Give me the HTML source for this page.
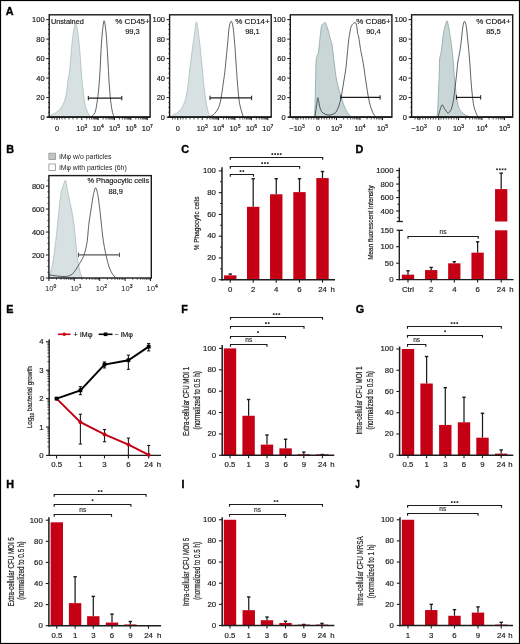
<!DOCTYPE html>
<html><head><meta charset="utf-8"><style>
html,body{margin:0;padding:0;background:#fff;}
body{width:520px;height:644px;overflow:hidden;font-family:"Liberation Sans",sans-serif;}
svg{display:block;}
</style></head><body>
<svg width="520" height="644" viewBox="0 0 520 644" style="will-change:transform" font-family='"Liberation Sans", sans-serif'>
<rect x="0" y="0" width="520" height="644" fill="#fff"/>
<text x="5.84" y="14.9" font-size="10.8" text-anchor="start" font-weight="bold" fill="#000" stroke="#000" stroke-width="0.35">A</text>
<line x1="46.2" y1="117.1" x2="49.2" y2="117.1" stroke="#1c1c1c" stroke-width="1"/>
<text x="44.6" y="119.6" font-size="7.5" text-anchor="end" font-weight="normal" fill="#1c1c1c" stroke="#1c1c1c" stroke-width="0.18">0</text>
<line x1="46.2" y1="97.6" x2="49.2" y2="97.6" stroke="#1c1c1c" stroke-width="1"/>
<text x="44.6" y="100.1" font-size="7.5" text-anchor="end" font-weight="normal" fill="#1c1c1c" stroke="#1c1c1c" stroke-width="0.18">20</text>
<line x1="46.2" y1="78.1" x2="49.2" y2="78.1" stroke="#1c1c1c" stroke-width="1"/>
<text x="44.6" y="80.6" font-size="7.5" text-anchor="end" font-weight="normal" fill="#1c1c1c" stroke="#1c1c1c" stroke-width="0.18">40</text>
<line x1="46.2" y1="58.6" x2="49.2" y2="58.6" stroke="#1c1c1c" stroke-width="1"/>
<text x="44.6" y="61.1" font-size="7.5" text-anchor="end" font-weight="normal" fill="#1c1c1c" stroke="#1c1c1c" stroke-width="0.18">60</text>
<line x1="46.2" y1="39.1" x2="49.2" y2="39.1" stroke="#1c1c1c" stroke-width="1"/>
<text x="44.6" y="41.6" font-size="7.5" text-anchor="end" font-weight="normal" fill="#1c1c1c" stroke="#1c1c1c" stroke-width="0.18">80</text>
<line x1="46.2" y1="19.6" x2="49.2" y2="19.6" stroke="#1c1c1c" stroke-width="1"/>
<text x="44.6" y="22.1" font-size="7.5" text-anchor="end" font-weight="normal" fill="#1c1c1c" stroke="#1c1c1c" stroke-width="0.18">100</text>
<line x1="48" y1="112.22" x2="49.2" y2="112.22" stroke="#1c1c1c" stroke-width="0.8"/>
<line x1="48" y1="107.35" x2="49.2" y2="107.35" stroke="#1c1c1c" stroke-width="0.8"/>
<line x1="48" y1="102.47" x2="49.2" y2="102.47" stroke="#1c1c1c" stroke-width="0.8"/>
<line x1="48" y1="92.72" x2="49.2" y2="92.72" stroke="#1c1c1c" stroke-width="0.8"/>
<line x1="48" y1="87.85" x2="49.2" y2="87.85" stroke="#1c1c1c" stroke-width="0.8"/>
<line x1="48" y1="82.97" x2="49.2" y2="82.97" stroke="#1c1c1c" stroke-width="0.8"/>
<line x1="48" y1="73.22" x2="49.2" y2="73.22" stroke="#1c1c1c" stroke-width="0.8"/>
<line x1="48" y1="68.35" x2="49.2" y2="68.35" stroke="#1c1c1c" stroke-width="0.8"/>
<line x1="48" y1="63.47" x2="49.2" y2="63.47" stroke="#1c1c1c" stroke-width="0.8"/>
<line x1="48" y1="53.72" x2="49.2" y2="53.72" stroke="#1c1c1c" stroke-width="0.8"/>
<line x1="48" y1="48.85" x2="49.2" y2="48.85" stroke="#1c1c1c" stroke-width="0.8"/>
<line x1="48" y1="43.97" x2="49.2" y2="43.97" stroke="#1c1c1c" stroke-width="0.8"/>
<line x1="48" y1="34.22" x2="49.2" y2="34.22" stroke="#1c1c1c" stroke-width="0.8"/>
<line x1="48" y1="29.35" x2="49.2" y2="29.35" stroke="#1c1c1c" stroke-width="0.8"/>
<line x1="48" y1="24.47" x2="49.2" y2="24.47" stroke="#1c1c1c" stroke-width="0.8"/>
<path d="M50,117.1 C50.17,116.75 50.05,115.73 51,115 C51.95,114.27 54.15,113.73 55.7,112.7 C57.25,111.67 58.88,110.6 60.3,108.8 C61.72,107 63.17,104.58 64.2,101.9 C65.23,99.22 65.87,96.28 66.5,92.7 C67.13,89.12 67.43,84.38 68,80.4 C68.57,76.42 69.32,74.1 69.9,68.8 C70.48,63.5 70.88,54.87 71.5,48.6 C72.12,42.33 72.92,35.45 73.6,31.2 C74.28,26.95 74.93,23.1 75.6,23.1 C76.27,23.1 76.93,26.95 77.6,31.2 C78.27,35.45 79.08,43.3 79.6,48.6 C80.12,53.9 80.33,57.93 80.7,63 C81.07,68.07 81.35,74.05 81.8,79 C82.25,83.95 82.88,88.62 83.4,92.7 C83.92,96.78 84.27,100.42 84.9,103.5 C85.53,106.58 86.3,108.93 87.2,111.2 C88.1,113.47 89.78,116.12 90.3,117.1 L90.3,117.1 L50,117.1 Z" fill="#d8e1e1" stroke="#a9bcbc" stroke-width="0.8"/>
<path d="M91,117.1 C91.65,116.37 93.92,114.97 94.9,112.7 C95.88,110.43 96.25,107.62 96.9,103.5 C97.55,99.38 98.25,93.92 98.8,88 C99.35,82.08 99.82,74.57 100.2,68 C100.58,61.43 100.72,54.73 101.1,48.6 C101.48,42.47 102,35.85 102.5,31.2 C103,26.55 103.53,20.7 104.1,20.7 C104.67,20.7 105.38,26.55 105.9,31.2 C106.42,35.85 106.82,42.8 107.2,48.6 C107.58,54.4 107.82,59.43 108.2,66 C108.58,72.57 109.03,81.75 109.5,88 C109.97,94.25 110.48,99.38 111,103.5 C111.52,107.62 112.07,110.43 112.6,112.7 C113.13,114.97 113.93,116.37 114.2,117.1" fill="none" stroke="#2e3a3a" stroke-width="0.8"/>
<line x1="88.3" y1="98.1" x2="121.8" y2="98.1" stroke="#1c1c1c" stroke-width="1.2"/>
<line x1="88.3" y1="95.9" x2="88.3" y2="100.3" stroke="#1c1c1c" stroke-width="1"/>
<line x1="121.8" y1="95.9" x2="121.8" y2="100.3" stroke="#1c1c1c" stroke-width="1"/>
<rect x="49.2" y="14.8" width="100.9" height="102.3" fill="none" stroke="#1a1a1a" stroke-width="1.4"/>
<line x1="47.2" y1="117.1" x2="150.1" y2="117.1" stroke="#1c1c1c" stroke-width="1.7"/>
<line x1="57" y1="117.1" x2="57" y2="120.1" stroke="#1c1c1c" stroke-width="1"/>
<text x="57" y="130.8" font-size="7.4" text-anchor="middle" font-weight="normal" fill="#1c1c1c" stroke="#1c1c1c" stroke-width="0.18">0</text>
<line x1="81.8" y1="117.1" x2="81.8" y2="120.1" stroke="#1c1c1c" stroke-width="1"/>
<text x="81.8" y="130.8" font-size="7.4" text-anchor="middle" font-weight="normal" fill="#1c1c1c" stroke="#1c1c1c" stroke-width="0.18">10<tspan dy="-2.9" font-size="5" stroke="#1c1c1c" stroke-width="0.2">3</tspan></text>
<line x1="98.2" y1="117.1" x2="98.2" y2="120.1" stroke="#1c1c1c" stroke-width="1"/>
<text x="98.2" y="130.8" font-size="7.4" text-anchor="middle" font-weight="normal" fill="#1c1c1c" stroke="#1c1c1c" stroke-width="0.18">10<tspan dy="-2.9" font-size="5" stroke="#1c1c1c" stroke-width="0.2">4</tspan></text>
<line x1="114.5" y1="117.1" x2="114.5" y2="120.1" stroke="#1c1c1c" stroke-width="1"/>
<text x="114.5" y="130.8" font-size="7.4" text-anchor="middle" font-weight="normal" fill="#1c1c1c" stroke="#1c1c1c" stroke-width="0.18">10<tspan dy="-2.9" font-size="5" stroke="#1c1c1c" stroke-width="0.2">5</tspan></text>
<line x1="130.9" y1="117.1" x2="130.9" y2="120.1" stroke="#1c1c1c" stroke-width="1"/>
<text x="130.9" y="130.8" font-size="7.4" text-anchor="middle" font-weight="normal" fill="#1c1c1c" stroke="#1c1c1c" stroke-width="0.18">10<tspan dy="-2.9" font-size="5" stroke="#1c1c1c" stroke-width="0.2">6</tspan></text>
<line x1="147.3" y1="117.1" x2="147.3" y2="120.1" stroke="#1c1c1c" stroke-width="1"/>
<text x="147.3" y="130.8" font-size="7.4" text-anchor="middle" font-weight="normal" fill="#1c1c1c" stroke="#1c1c1c" stroke-width="0.18">10<tspan dy="-2.9" font-size="5" stroke="#1c1c1c" stroke-width="0.2">7</tspan></text>
<text x="132.5" y="24.2" font-size="8" text-anchor="middle" font-weight="normal" fill="#1c1c1c" stroke="#1c1c1c" stroke-width="0.18">% CD45+</text>
<text x="132.5" y="33.5" font-size="7.5" text-anchor="middle" font-weight="normal" fill="#1c1c1c" stroke="#1c1c1c" stroke-width="0.18">99,3</text>
<line x1="86.74" y1="117.1" x2="86.74" y2="119.5" stroke="#1c1c1c" stroke-width="0.8"/>
<line x1="89.62" y1="117.1" x2="89.62" y2="119.5" stroke="#1c1c1c" stroke-width="0.8"/>
<line x1="91.67" y1="117.1" x2="91.67" y2="119.5" stroke="#1c1c1c" stroke-width="0.8"/>
<line x1="93.26" y1="117.1" x2="93.26" y2="119.5" stroke="#1c1c1c" stroke-width="0.8"/>
<line x1="94.56" y1="117.1" x2="94.56" y2="119.5" stroke="#1c1c1c" stroke-width="0.8"/>
<line x1="95.66" y1="117.1" x2="95.66" y2="119.5" stroke="#1c1c1c" stroke-width="0.8"/>
<line x1="96.61" y1="117.1" x2="96.61" y2="119.5" stroke="#1c1c1c" stroke-width="0.8"/>
<line x1="97.45" y1="117.1" x2="97.45" y2="119.5" stroke="#1c1c1c" stroke-width="0.8"/>
<line x1="103.14" y1="117.1" x2="103.14" y2="119.5" stroke="#1c1c1c" stroke-width="0.8"/>
<line x1="106.02" y1="117.1" x2="106.02" y2="119.5" stroke="#1c1c1c" stroke-width="0.8"/>
<line x1="108.07" y1="117.1" x2="108.07" y2="119.5" stroke="#1c1c1c" stroke-width="0.8"/>
<line x1="109.66" y1="117.1" x2="109.66" y2="119.5" stroke="#1c1c1c" stroke-width="0.8"/>
<line x1="110.96" y1="117.1" x2="110.96" y2="119.5" stroke="#1c1c1c" stroke-width="0.8"/>
<line x1="112.06" y1="117.1" x2="112.06" y2="119.5" stroke="#1c1c1c" stroke-width="0.8"/>
<line x1="113.01" y1="117.1" x2="113.01" y2="119.5" stroke="#1c1c1c" stroke-width="0.8"/>
<line x1="113.85" y1="117.1" x2="113.85" y2="119.5" stroke="#1c1c1c" stroke-width="0.8"/>
<line x1="119.44" y1="117.1" x2="119.44" y2="119.5" stroke="#1c1c1c" stroke-width="0.8"/>
<line x1="122.32" y1="117.1" x2="122.32" y2="119.5" stroke="#1c1c1c" stroke-width="0.8"/>
<line x1="124.37" y1="117.1" x2="124.37" y2="119.5" stroke="#1c1c1c" stroke-width="0.8"/>
<line x1="125.96" y1="117.1" x2="125.96" y2="119.5" stroke="#1c1c1c" stroke-width="0.8"/>
<line x1="127.26" y1="117.1" x2="127.26" y2="119.5" stroke="#1c1c1c" stroke-width="0.8"/>
<line x1="128.36" y1="117.1" x2="128.36" y2="119.5" stroke="#1c1c1c" stroke-width="0.8"/>
<line x1="129.31" y1="117.1" x2="129.31" y2="119.5" stroke="#1c1c1c" stroke-width="0.8"/>
<line x1="130.15" y1="117.1" x2="130.15" y2="119.5" stroke="#1c1c1c" stroke-width="0.8"/>
<line x1="135.84" y1="117.1" x2="135.84" y2="119.5" stroke="#1c1c1c" stroke-width="0.8"/>
<line x1="138.72" y1="117.1" x2="138.72" y2="119.5" stroke="#1c1c1c" stroke-width="0.8"/>
<line x1="140.77" y1="117.1" x2="140.77" y2="119.5" stroke="#1c1c1c" stroke-width="0.8"/>
<line x1="142.36" y1="117.1" x2="142.36" y2="119.5" stroke="#1c1c1c" stroke-width="0.8"/>
<line x1="143.66" y1="117.1" x2="143.66" y2="119.5" stroke="#1c1c1c" stroke-width="0.8"/>
<line x1="144.76" y1="117.1" x2="144.76" y2="119.5" stroke="#1c1c1c" stroke-width="0.8"/>
<line x1="145.71" y1="117.1" x2="145.71" y2="119.5" stroke="#1c1c1c" stroke-width="0.8"/>
<line x1="146.55" y1="117.1" x2="146.55" y2="119.5" stroke="#1c1c1c" stroke-width="0.8"/>
<text x="50.9" y="23.9" font-size="7.3" text-anchor="start" font-weight="normal" fill="#1c1c1c" stroke="#1c1c1c" stroke-width="0.18">Unstained</text>
<line x1="52" y1="117.1" x2="52" y2="119.5" stroke="#1c1c1c" stroke-width="0.8"/>
<line x1="54.5" y1="117.1" x2="54.5" y2="119.5" stroke="#1c1c1c" stroke-width="0.8"/>
<line x1="59.5" y1="117.1" x2="59.5" y2="119.5" stroke="#1c1c1c" stroke-width="0.8"/>
<line x1="62" y1="117.1" x2="62" y2="119.5" stroke="#1c1c1c" stroke-width="0.8"/>
<line x1="65" y1="117.1" x2="65" y2="119.5" stroke="#1c1c1c" stroke-width="0.8"/>
<line x1="69" y1="117.1" x2="69" y2="119.5" stroke="#1c1c1c" stroke-width="0.8"/>
<line x1="73" y1="117.1" x2="73" y2="119.5" stroke="#1c1c1c" stroke-width="0.8"/>
<line x1="77" y1="117.1" x2="77" y2="119.5" stroke="#1c1c1c" stroke-width="0.8"/>
<line x1="166.6" y1="117.1" x2="169.6" y2="117.1" stroke="#1c1c1c" stroke-width="1"/>
<text x="165" y="119.6" font-size="7.5" text-anchor="end" font-weight="normal" fill="#1c1c1c" stroke="#1c1c1c" stroke-width="0.18">0</text>
<line x1="166.6" y1="97.6" x2="169.6" y2="97.6" stroke="#1c1c1c" stroke-width="1"/>
<text x="165" y="100.1" font-size="7.5" text-anchor="end" font-weight="normal" fill="#1c1c1c" stroke="#1c1c1c" stroke-width="0.18">20</text>
<line x1="166.6" y1="78.1" x2="169.6" y2="78.1" stroke="#1c1c1c" stroke-width="1"/>
<text x="165" y="80.6" font-size="7.5" text-anchor="end" font-weight="normal" fill="#1c1c1c" stroke="#1c1c1c" stroke-width="0.18">40</text>
<line x1="166.6" y1="58.6" x2="169.6" y2="58.6" stroke="#1c1c1c" stroke-width="1"/>
<text x="165" y="61.1" font-size="7.5" text-anchor="end" font-weight="normal" fill="#1c1c1c" stroke="#1c1c1c" stroke-width="0.18">60</text>
<line x1="166.6" y1="39.1" x2="169.6" y2="39.1" stroke="#1c1c1c" stroke-width="1"/>
<text x="165" y="41.6" font-size="7.5" text-anchor="end" font-weight="normal" fill="#1c1c1c" stroke="#1c1c1c" stroke-width="0.18">80</text>
<line x1="166.6" y1="19.6" x2="169.6" y2="19.6" stroke="#1c1c1c" stroke-width="1"/>
<text x="165" y="22.1" font-size="7.5" text-anchor="end" font-weight="normal" fill="#1c1c1c" stroke="#1c1c1c" stroke-width="0.18">100</text>
<line x1="168.4" y1="112.22" x2="169.6" y2="112.22" stroke="#1c1c1c" stroke-width="0.8"/>
<line x1="168.4" y1="107.35" x2="169.6" y2="107.35" stroke="#1c1c1c" stroke-width="0.8"/>
<line x1="168.4" y1="102.47" x2="169.6" y2="102.47" stroke="#1c1c1c" stroke-width="0.8"/>
<line x1="168.4" y1="92.72" x2="169.6" y2="92.72" stroke="#1c1c1c" stroke-width="0.8"/>
<line x1="168.4" y1="87.85" x2="169.6" y2="87.85" stroke="#1c1c1c" stroke-width="0.8"/>
<line x1="168.4" y1="82.97" x2="169.6" y2="82.97" stroke="#1c1c1c" stroke-width="0.8"/>
<line x1="168.4" y1="73.22" x2="169.6" y2="73.22" stroke="#1c1c1c" stroke-width="0.8"/>
<line x1="168.4" y1="68.35" x2="169.6" y2="68.35" stroke="#1c1c1c" stroke-width="0.8"/>
<line x1="168.4" y1="63.47" x2="169.6" y2="63.47" stroke="#1c1c1c" stroke-width="0.8"/>
<line x1="168.4" y1="53.72" x2="169.6" y2="53.72" stroke="#1c1c1c" stroke-width="0.8"/>
<line x1="168.4" y1="48.85" x2="169.6" y2="48.85" stroke="#1c1c1c" stroke-width="0.8"/>
<line x1="168.4" y1="43.97" x2="169.6" y2="43.97" stroke="#1c1c1c" stroke-width="0.8"/>
<line x1="168.4" y1="34.22" x2="169.6" y2="34.22" stroke="#1c1c1c" stroke-width="0.8"/>
<line x1="168.4" y1="29.35" x2="169.6" y2="29.35" stroke="#1c1c1c" stroke-width="0.8"/>
<line x1="168.4" y1="24.47" x2="169.6" y2="24.47" stroke="#1c1c1c" stroke-width="0.8"/>
<path d="M171,117.1 C171.08,116.92 170.42,116.75 171.5,116 C172.58,115.25 175.63,114.18 177.5,112.6 C179.37,111.02 181.25,109.23 182.7,106.5 C184.15,103.77 185.25,100.23 186.2,96.2 C187.15,92.17 187.82,86.73 188.4,82.3 C188.98,77.87 189.3,73.12 189.7,69.6 C190.1,66.08 190.28,65.17 190.8,61.2 C191.32,57.23 192.17,50.42 192.8,45.8 C193.43,41.18 193.98,37.48 194.6,33.5 C195.22,29.52 195.85,21.9 196.5,21.9 C197.15,21.9 197.92,29.52 198.5,33.5 C199.08,37.48 199.5,41.18 200,45.8 C200.5,50.42 201.1,57.23 201.5,61.2 C201.9,65.17 202.07,66.08 202.4,69.6 C202.73,73.12 203.03,77.87 203.5,82.3 C203.97,86.73 204.63,92.17 205.2,96.2 C205.77,100.23 206.18,103.02 206.9,106.5 C207.62,109.98 209.07,115.33 209.5,117.1 L209.5,117.1 L171,117.1 Z" fill="#d8e1e1" stroke="#a9bcbc" stroke-width="0.8"/>
<path d="M208.7,117.1 C209.57,116.63 212.32,115.77 213.9,114.3 C215.48,112.83 217.05,110.75 218.2,108.3 C219.35,105.85 219.93,103.93 220.8,99.6 C221.67,95.27 222.68,87.3 223.4,82.3 C224.12,77.3 224.63,73.65 225.1,69.6 C225.57,65.55 225.77,62.48 226.2,58 C226.63,53.52 227.2,47.82 227.7,42.7 C228.2,37.58 228.62,30.88 229.2,27.3 C229.78,23.72 230.55,21.2 231.2,21.2 C231.85,21.2 232.53,23.72 233.1,27.3 C233.67,30.88 234.17,37.58 234.6,42.7 C235.03,47.82 235.38,53.52 235.7,58 C236.02,62.48 236.22,65.55 236.5,69.6 C236.78,73.65 236.98,77.3 237.4,82.3 C237.82,87.3 238.45,95.27 239,99.6 C239.55,103.93 239.98,105.38 240.7,108.3 C241.42,111.22 242.87,115.63 243.3,117.1" fill="none" stroke="#2e3a3a" stroke-width="0.8"/>
<line x1="210" y1="97.9" x2="251.6" y2="97.9" stroke="#1c1c1c" stroke-width="1.2"/>
<line x1="210" y1="95.7" x2="210" y2="100.1" stroke="#1c1c1c" stroke-width="1"/>
<line x1="251.6" y1="95.7" x2="251.6" y2="100.1" stroke="#1c1c1c" stroke-width="1"/>
<rect x="169.6" y="14.8" width="101.6" height="102.3" fill="none" stroke="#1a1a1a" stroke-width="1.4"/>
<line x1="167.6" y1="117.1" x2="271.2" y2="117.1" stroke="#1c1c1c" stroke-width="1.7"/>
<line x1="177.8" y1="117.1" x2="177.8" y2="120.1" stroke="#1c1c1c" stroke-width="1"/>
<text x="177.8" y="130.8" font-size="7.4" text-anchor="middle" font-weight="normal" fill="#1c1c1c" stroke="#1c1c1c" stroke-width="0.18">0</text>
<line x1="202.2" y1="117.1" x2="202.2" y2="120.1" stroke="#1c1c1c" stroke-width="1"/>
<text x="202.2" y="130.8" font-size="7.4" text-anchor="middle" font-weight="normal" fill="#1c1c1c" stroke="#1c1c1c" stroke-width="0.18">10<tspan dy="-2.9" font-size="5" stroke="#1c1c1c" stroke-width="0.2">3</tspan></text>
<line x1="218.6" y1="117.1" x2="218.6" y2="120.1" stroke="#1c1c1c" stroke-width="1"/>
<text x="218.6" y="130.8" font-size="7.4" text-anchor="middle" font-weight="normal" fill="#1c1c1c" stroke="#1c1c1c" stroke-width="0.18">10<tspan dy="-2.9" font-size="5" stroke="#1c1c1c" stroke-width="0.2">4</tspan></text>
<line x1="235" y1="117.1" x2="235" y2="120.1" stroke="#1c1c1c" stroke-width="1"/>
<text x="235" y="130.8" font-size="7.4" text-anchor="middle" font-weight="normal" fill="#1c1c1c" stroke="#1c1c1c" stroke-width="0.18">10<tspan dy="-2.9" font-size="5" stroke="#1c1c1c" stroke-width="0.2">5</tspan></text>
<line x1="251.4" y1="117.1" x2="251.4" y2="120.1" stroke="#1c1c1c" stroke-width="1"/>
<text x="251.4" y="130.8" font-size="7.4" text-anchor="middle" font-weight="normal" fill="#1c1c1c" stroke="#1c1c1c" stroke-width="0.18">10<tspan dy="-2.9" font-size="5" stroke="#1c1c1c" stroke-width="0.2">6</tspan></text>
<line x1="267.8" y1="117.1" x2="267.8" y2="120.1" stroke="#1c1c1c" stroke-width="1"/>
<text x="267.8" y="130.8" font-size="7.4" text-anchor="middle" font-weight="normal" fill="#1c1c1c" stroke="#1c1c1c" stroke-width="0.18">10<tspan dy="-2.9" font-size="5" stroke="#1c1c1c" stroke-width="0.2">7</tspan></text>
<text x="252.5" y="24.2" font-size="8" text-anchor="middle" font-weight="normal" fill="#1c1c1c" stroke="#1c1c1c" stroke-width="0.18">% CD14+</text>
<text x="252.5" y="33.5" font-size="7.5" text-anchor="middle" font-weight="normal" fill="#1c1c1c" stroke="#1c1c1c" stroke-width="0.18">98,1</text>
<line x1="207.14" y1="117.1" x2="207.14" y2="119.5" stroke="#1c1c1c" stroke-width="0.8"/>
<line x1="210.02" y1="117.1" x2="210.02" y2="119.5" stroke="#1c1c1c" stroke-width="0.8"/>
<line x1="212.07" y1="117.1" x2="212.07" y2="119.5" stroke="#1c1c1c" stroke-width="0.8"/>
<line x1="213.66" y1="117.1" x2="213.66" y2="119.5" stroke="#1c1c1c" stroke-width="0.8"/>
<line x1="214.96" y1="117.1" x2="214.96" y2="119.5" stroke="#1c1c1c" stroke-width="0.8"/>
<line x1="216.06" y1="117.1" x2="216.06" y2="119.5" stroke="#1c1c1c" stroke-width="0.8"/>
<line x1="217.01" y1="117.1" x2="217.01" y2="119.5" stroke="#1c1c1c" stroke-width="0.8"/>
<line x1="217.85" y1="117.1" x2="217.85" y2="119.5" stroke="#1c1c1c" stroke-width="0.8"/>
<line x1="223.54" y1="117.1" x2="223.54" y2="119.5" stroke="#1c1c1c" stroke-width="0.8"/>
<line x1="226.42" y1="117.1" x2="226.42" y2="119.5" stroke="#1c1c1c" stroke-width="0.8"/>
<line x1="228.47" y1="117.1" x2="228.47" y2="119.5" stroke="#1c1c1c" stroke-width="0.8"/>
<line x1="230.06" y1="117.1" x2="230.06" y2="119.5" stroke="#1c1c1c" stroke-width="0.8"/>
<line x1="231.36" y1="117.1" x2="231.36" y2="119.5" stroke="#1c1c1c" stroke-width="0.8"/>
<line x1="232.46" y1="117.1" x2="232.46" y2="119.5" stroke="#1c1c1c" stroke-width="0.8"/>
<line x1="233.41" y1="117.1" x2="233.41" y2="119.5" stroke="#1c1c1c" stroke-width="0.8"/>
<line x1="234.25" y1="117.1" x2="234.25" y2="119.5" stroke="#1c1c1c" stroke-width="0.8"/>
<line x1="239.94" y1="117.1" x2="239.94" y2="119.5" stroke="#1c1c1c" stroke-width="0.8"/>
<line x1="242.82" y1="117.1" x2="242.82" y2="119.5" stroke="#1c1c1c" stroke-width="0.8"/>
<line x1="244.87" y1="117.1" x2="244.87" y2="119.5" stroke="#1c1c1c" stroke-width="0.8"/>
<line x1="246.46" y1="117.1" x2="246.46" y2="119.5" stroke="#1c1c1c" stroke-width="0.8"/>
<line x1="247.76" y1="117.1" x2="247.76" y2="119.5" stroke="#1c1c1c" stroke-width="0.8"/>
<line x1="248.86" y1="117.1" x2="248.86" y2="119.5" stroke="#1c1c1c" stroke-width="0.8"/>
<line x1="249.81" y1="117.1" x2="249.81" y2="119.5" stroke="#1c1c1c" stroke-width="0.8"/>
<line x1="250.65" y1="117.1" x2="250.65" y2="119.5" stroke="#1c1c1c" stroke-width="0.8"/>
<line x1="256.34" y1="117.1" x2="256.34" y2="119.5" stroke="#1c1c1c" stroke-width="0.8"/>
<line x1="259.22" y1="117.1" x2="259.22" y2="119.5" stroke="#1c1c1c" stroke-width="0.8"/>
<line x1="261.27" y1="117.1" x2="261.27" y2="119.5" stroke="#1c1c1c" stroke-width="0.8"/>
<line x1="262.86" y1="117.1" x2="262.86" y2="119.5" stroke="#1c1c1c" stroke-width="0.8"/>
<line x1="264.16" y1="117.1" x2="264.16" y2="119.5" stroke="#1c1c1c" stroke-width="0.8"/>
<line x1="265.26" y1="117.1" x2="265.26" y2="119.5" stroke="#1c1c1c" stroke-width="0.8"/>
<line x1="266.21" y1="117.1" x2="266.21" y2="119.5" stroke="#1c1c1c" stroke-width="0.8"/>
<line x1="267.05" y1="117.1" x2="267.05" y2="119.5" stroke="#1c1c1c" stroke-width="0.8"/>
<line x1="172.5" y1="117.1" x2="172.5" y2="119.5" stroke="#1c1c1c" stroke-width="0.8"/>
<line x1="175" y1="117.1" x2="175" y2="119.5" stroke="#1c1c1c" stroke-width="0.8"/>
<line x1="180.5" y1="117.1" x2="180.5" y2="119.5" stroke="#1c1c1c" stroke-width="0.8"/>
<line x1="183" y1="117.1" x2="183" y2="119.5" stroke="#1c1c1c" stroke-width="0.8"/>
<line x1="186" y1="117.1" x2="186" y2="119.5" stroke="#1c1c1c" stroke-width="0.8"/>
<line x1="190" y1="117.1" x2="190" y2="119.5" stroke="#1c1c1c" stroke-width="0.8"/>
<line x1="194" y1="117.1" x2="194" y2="119.5" stroke="#1c1c1c" stroke-width="0.8"/>
<line x1="198" y1="117.1" x2="198" y2="119.5" stroke="#1c1c1c" stroke-width="0.8"/>
<line x1="287.3" y1="117.1" x2="290.3" y2="117.1" stroke="#1c1c1c" stroke-width="1"/>
<text x="285.7" y="119.6" font-size="7.5" text-anchor="end" font-weight="normal" fill="#1c1c1c" stroke="#1c1c1c" stroke-width="0.18">0</text>
<line x1="287.3" y1="97.6" x2="290.3" y2="97.6" stroke="#1c1c1c" stroke-width="1"/>
<text x="285.7" y="100.1" font-size="7.5" text-anchor="end" font-weight="normal" fill="#1c1c1c" stroke="#1c1c1c" stroke-width="0.18">20</text>
<line x1="287.3" y1="78.1" x2="290.3" y2="78.1" stroke="#1c1c1c" stroke-width="1"/>
<text x="285.7" y="80.6" font-size="7.5" text-anchor="end" font-weight="normal" fill="#1c1c1c" stroke="#1c1c1c" stroke-width="0.18">40</text>
<line x1="287.3" y1="58.6" x2="290.3" y2="58.6" stroke="#1c1c1c" stroke-width="1"/>
<text x="285.7" y="61.1" font-size="7.5" text-anchor="end" font-weight="normal" fill="#1c1c1c" stroke="#1c1c1c" stroke-width="0.18">60</text>
<line x1="287.3" y1="39.1" x2="290.3" y2="39.1" stroke="#1c1c1c" stroke-width="1"/>
<text x="285.7" y="41.6" font-size="7.5" text-anchor="end" font-weight="normal" fill="#1c1c1c" stroke="#1c1c1c" stroke-width="0.18">80</text>
<line x1="287.3" y1="19.6" x2="290.3" y2="19.6" stroke="#1c1c1c" stroke-width="1"/>
<text x="285.7" y="22.1" font-size="7.5" text-anchor="end" font-weight="normal" fill="#1c1c1c" stroke="#1c1c1c" stroke-width="0.18">100</text>
<line x1="289.1" y1="112.22" x2="290.3" y2="112.22" stroke="#1c1c1c" stroke-width="0.8"/>
<line x1="289.1" y1="107.35" x2="290.3" y2="107.35" stroke="#1c1c1c" stroke-width="0.8"/>
<line x1="289.1" y1="102.47" x2="290.3" y2="102.47" stroke="#1c1c1c" stroke-width="0.8"/>
<line x1="289.1" y1="92.72" x2="290.3" y2="92.72" stroke="#1c1c1c" stroke-width="0.8"/>
<line x1="289.1" y1="87.85" x2="290.3" y2="87.85" stroke="#1c1c1c" stroke-width="0.8"/>
<line x1="289.1" y1="82.97" x2="290.3" y2="82.97" stroke="#1c1c1c" stroke-width="0.8"/>
<line x1="289.1" y1="73.22" x2="290.3" y2="73.22" stroke="#1c1c1c" stroke-width="0.8"/>
<line x1="289.1" y1="68.35" x2="290.3" y2="68.35" stroke="#1c1c1c" stroke-width="0.8"/>
<line x1="289.1" y1="63.47" x2="290.3" y2="63.47" stroke="#1c1c1c" stroke-width="0.8"/>
<line x1="289.1" y1="53.72" x2="290.3" y2="53.72" stroke="#1c1c1c" stroke-width="0.8"/>
<line x1="289.1" y1="48.85" x2="290.3" y2="48.85" stroke="#1c1c1c" stroke-width="0.8"/>
<line x1="289.1" y1="43.97" x2="290.3" y2="43.97" stroke="#1c1c1c" stroke-width="0.8"/>
<line x1="289.1" y1="34.22" x2="290.3" y2="34.22" stroke="#1c1c1c" stroke-width="0.8"/>
<line x1="289.1" y1="29.35" x2="290.3" y2="29.35" stroke="#1c1c1c" stroke-width="0.8"/>
<line x1="289.1" y1="24.47" x2="290.3" y2="24.47" stroke="#1c1c1c" stroke-width="0.8"/>
<path d="M314.2,117.1 C314.33,115.25 314.78,111.35 315,106 C315.22,100.65 315.33,92.33 315.5,85 C315.67,77.67 315.75,66.83 316,62 C316.25,57.17 316.62,57.5 317,56 C317.38,54.5 317.9,55 318.3,53 C318.7,51 319.02,47.45 319.4,44 C319.78,40.55 320.22,35.4 320.6,32.3 C320.98,29.2 321.22,26.83 321.7,25.4 C322.18,23.97 322.92,24.18 323.5,23.7 C324.08,23.22 324.63,22.03 325.2,22.5 C325.77,22.97 326.32,24.87 326.9,26.5 C327.48,28.13 328.12,30.18 328.7,32.3 C329.28,34.42 329.83,37.08 330.4,39.2 C330.97,41.32 331.62,42.37 332.1,45 C332.58,47.63 332.9,51.67 333.3,55 C333.7,58.33 334.08,61.6 334.5,65 C334.92,68.4 335.22,71.87 335.8,75.4 C336.38,78.93 337.1,82.6 338,86.2 C338.9,89.8 340.17,93.7 341.2,97 C342.23,100.3 343.18,103.45 344.2,106 C345.22,108.55 346.13,110.45 347.3,112.3 C348.47,114.15 350.55,116.3 351.2,117.1 L351.2,117.1 L314.2,117.1 Z" fill="#c9d6d5" stroke="#8aa6a6" stroke-width="0.8"/>
<path d="M315,117.1 C315.25,115.25 316.03,109.23 316.5,106 C316.97,102.77 317.38,98.2 317.8,97.7 C318.22,97.2 318.57,101.08 319,103 C319.43,104.92 319.73,107.53 320.4,109.2 C321.07,110.87 321.73,112.03 323,113 C324.27,113.97 326.5,114.75 328,115 C329.5,115.25 330.7,114.95 332,114.5 C333.3,114.05 334.67,113.72 335.8,112.3 C336.93,110.88 337.9,108.55 338.8,106 C339.7,103.45 340.42,100.83 341.2,97 C341.98,93.17 342.73,87.63 343.5,83 C344.27,78.37 345.2,73.7 345.8,69.2 C346.4,64.7 346.63,60.7 347.1,56 C347.57,51.3 348.15,44.83 348.6,41 C349.05,37.17 349.37,35.42 349.8,33 C350.23,30.58 350.58,28.12 351.2,26.5 C351.82,24.88 352.73,23.88 353.5,23.3 C354.27,22.72 355.22,22.22 355.8,23 C356.38,23.78 356.7,26.25 357,28 C357.3,29.75 357.32,32 357.6,33.5 C357.88,35 358.23,34.5 358.7,37 C359.17,39.5 359.93,45.63 360.4,48.5 C360.87,51.37 361.02,51.7 361.5,54.2 C361.98,56.7 362.72,59.97 363.3,63.5 C363.88,67.03 364.33,70.85 365,75.4 C365.67,79.95 366.53,86.2 367.3,90.8 C368.07,95.4 368.7,99.42 369.6,103 C370.5,106.58 371.67,109.95 372.7,112.3 C373.73,114.65 375.28,116.3 375.8,117.1" fill="none" stroke="#2e3a3a" stroke-width="0.8"/>
<line x1="340.8" y1="97.4" x2="380.1" y2="97.4" stroke="#1c1c1c" stroke-width="1.2"/>
<line x1="340.8" y1="95.2" x2="340.8" y2="99.6" stroke="#1c1c1c" stroke-width="1"/>
<line x1="380.1" y1="95.2" x2="380.1" y2="99.6" stroke="#1c1c1c" stroke-width="1"/>
<rect x="290.3" y="14.8" width="101.6" height="102.3" fill="none" stroke="#1a1a1a" stroke-width="1.4"/>
<line x1="288.3" y1="117.1" x2="391.9" y2="117.1" stroke="#1c1c1c" stroke-width="1.7"/>
<line x1="297" y1="117.1" x2="297" y2="120.1" stroke="#1c1c1c" stroke-width="1"/>
<text x="297" y="130.8" font-size="7.4" text-anchor="middle" font-weight="normal" fill="#1c1c1c" stroke="#1c1c1c" stroke-width="0.18">&#8722;10<tspan dy="-2.9" font-size="5" stroke="#1c1c1c" stroke-width="0.2">3</tspan></text>
<line x1="318" y1="117.1" x2="318" y2="120.1" stroke="#1c1c1c" stroke-width="1"/>
<text x="318" y="130.8" font-size="7.4" text-anchor="middle" font-weight="normal" fill="#1c1c1c" stroke="#1c1c1c" stroke-width="0.18">0</text>
<line x1="336.5" y1="117.1" x2="336.5" y2="120.1" stroke="#1c1c1c" stroke-width="1"/>
<text x="336.5" y="130.8" font-size="7.4" text-anchor="middle" font-weight="normal" fill="#1c1c1c" stroke="#1c1c1c" stroke-width="0.18">10<tspan dy="-2.9" font-size="5" stroke="#1c1c1c" stroke-width="0.2">3</tspan></text>
<line x1="360" y1="117.1" x2="360" y2="120.1" stroke="#1c1c1c" stroke-width="1"/>
<text x="360" y="130.8" font-size="7.4" text-anchor="middle" font-weight="normal" fill="#1c1c1c" stroke="#1c1c1c" stroke-width="0.18">10<tspan dy="-2.9" font-size="5" stroke="#1c1c1c" stroke-width="0.2">4</tspan></text>
<line x1="382.5" y1="117.1" x2="382.5" y2="120.1" stroke="#1c1c1c" stroke-width="1"/>
<text x="382.5" y="130.8" font-size="7.4" text-anchor="middle" font-weight="normal" fill="#1c1c1c" stroke="#1c1c1c" stroke-width="0.18">10<tspan dy="-2.9" font-size="5" stroke="#1c1c1c" stroke-width="0.2">5</tspan></text>
<text x="373.5" y="24.2" font-size="8" text-anchor="middle" font-weight="normal" fill="#1c1c1c" stroke="#1c1c1c" stroke-width="0.18">% CD86+</text>
<text x="373.5" y="33.5" font-size="7.5" text-anchor="middle" font-weight="normal" fill="#1c1c1c" stroke="#1c1c1c" stroke-width="0.18">90,4</text>
<line x1="408.6" y1="117.1" x2="411.6" y2="117.1" stroke="#1c1c1c" stroke-width="1"/>
<text x="407" y="119.6" font-size="7.5" text-anchor="end" font-weight="normal" fill="#1c1c1c" stroke="#1c1c1c" stroke-width="0.18">0</text>
<line x1="408.6" y1="97.6" x2="411.6" y2="97.6" stroke="#1c1c1c" stroke-width="1"/>
<text x="407" y="100.1" font-size="7.5" text-anchor="end" font-weight="normal" fill="#1c1c1c" stroke="#1c1c1c" stroke-width="0.18">20</text>
<line x1="408.6" y1="78.1" x2="411.6" y2="78.1" stroke="#1c1c1c" stroke-width="1"/>
<text x="407" y="80.6" font-size="7.5" text-anchor="end" font-weight="normal" fill="#1c1c1c" stroke="#1c1c1c" stroke-width="0.18">40</text>
<line x1="408.6" y1="58.6" x2="411.6" y2="58.6" stroke="#1c1c1c" stroke-width="1"/>
<text x="407" y="61.1" font-size="7.5" text-anchor="end" font-weight="normal" fill="#1c1c1c" stroke="#1c1c1c" stroke-width="0.18">60</text>
<line x1="408.6" y1="39.1" x2="411.6" y2="39.1" stroke="#1c1c1c" stroke-width="1"/>
<text x="407" y="41.6" font-size="7.5" text-anchor="end" font-weight="normal" fill="#1c1c1c" stroke="#1c1c1c" stroke-width="0.18">80</text>
<line x1="408.6" y1="19.6" x2="411.6" y2="19.6" stroke="#1c1c1c" stroke-width="1"/>
<text x="407" y="22.1" font-size="7.5" text-anchor="end" font-weight="normal" fill="#1c1c1c" stroke="#1c1c1c" stroke-width="0.18">100</text>
<line x1="410.4" y1="112.22" x2="411.6" y2="112.22" stroke="#1c1c1c" stroke-width="0.8"/>
<line x1="410.4" y1="107.35" x2="411.6" y2="107.35" stroke="#1c1c1c" stroke-width="0.8"/>
<line x1="410.4" y1="102.47" x2="411.6" y2="102.47" stroke="#1c1c1c" stroke-width="0.8"/>
<line x1="410.4" y1="92.72" x2="411.6" y2="92.72" stroke="#1c1c1c" stroke-width="0.8"/>
<line x1="410.4" y1="87.85" x2="411.6" y2="87.85" stroke="#1c1c1c" stroke-width="0.8"/>
<line x1="410.4" y1="82.97" x2="411.6" y2="82.97" stroke="#1c1c1c" stroke-width="0.8"/>
<line x1="410.4" y1="73.22" x2="411.6" y2="73.22" stroke="#1c1c1c" stroke-width="0.8"/>
<line x1="410.4" y1="68.35" x2="411.6" y2="68.35" stroke="#1c1c1c" stroke-width="0.8"/>
<line x1="410.4" y1="63.47" x2="411.6" y2="63.47" stroke="#1c1c1c" stroke-width="0.8"/>
<line x1="410.4" y1="53.72" x2="411.6" y2="53.72" stroke="#1c1c1c" stroke-width="0.8"/>
<line x1="410.4" y1="48.85" x2="411.6" y2="48.85" stroke="#1c1c1c" stroke-width="0.8"/>
<line x1="410.4" y1="43.97" x2="411.6" y2="43.97" stroke="#1c1c1c" stroke-width="0.8"/>
<line x1="410.4" y1="34.22" x2="411.6" y2="34.22" stroke="#1c1c1c" stroke-width="0.8"/>
<line x1="410.4" y1="29.35" x2="411.6" y2="29.35" stroke="#1c1c1c" stroke-width="0.8"/>
<line x1="410.4" y1="24.47" x2="411.6" y2="24.47" stroke="#1c1c1c" stroke-width="0.8"/>
<path d="M437,117.1 C437.1,116.05 437.35,115.18 437.6,110.8 C437.85,106.42 438.23,96.77 438.5,90.8 C438.77,84.83 439.02,80.13 439.2,75 C439.38,69.87 439.38,63.33 439.6,60 C439.82,56.67 440.18,56.73 440.5,55 C440.82,53.27 441.03,53 441.5,49.6 C441.97,46.2 442.82,38.07 443.3,34.6 C443.78,31.13 444.02,30.53 444.4,28.8 C444.78,27.07 445.15,25.53 445.6,24.2 C446.05,22.87 446.62,20.42 447.1,20.8 C447.58,21.18 448.08,24.58 448.5,26.5 C448.92,28.42 449.13,29.42 449.6,32.3 C450.07,35.18 450.73,39.38 451.3,43.8 C451.87,48.22 452.52,53.6 453,58.8 C453.48,64 453.73,69.67 454.2,75 C454.67,80.33 455.28,86.38 455.8,90.8 C456.32,95.22 456.67,98.43 457.3,101.5 C457.93,104.57 458.57,107.15 459.6,109.2 C460.63,111.25 461.83,112.48 463.5,113.8 C465.17,115.12 468.58,116.55 469.6,117.1 L469.6,117.1 L437,117.1 Z" fill="#c9d6d5" stroke="#8aa6a6" stroke-width="0.8"/>
<path d="M438,117.1 C438.33,115.92 439.3,112.03 440,110 C440.7,107.97 441.45,105.15 442.2,104.9 C442.95,104.65 443.53,107.15 444.5,108.5 C445.47,109.85 446.88,112.88 448,113 C449.12,113.12 450.28,111.37 451.2,109.2 C452.12,107.03 452.87,103.58 453.5,100 C454.13,96.42 454.5,91.8 455,87.7 C455.5,83.6 456.03,79.68 456.5,75.4 C456.97,71.12 457.38,65.23 457.8,62 C458.22,58.77 458.53,58.63 459,56 C459.47,53.37 460.15,49.38 460.6,46.2 C461.05,43.02 461.32,40.18 461.7,36.9 C462.08,33.62 462.42,29.1 462.9,26.5 C463.38,23.9 464.03,21.3 464.6,21.3 C465.17,21.3 465.82,23.72 466.3,26.5 C466.78,29.28 467.1,34.15 467.5,38 C467.9,41.85 468.35,45.93 468.7,49.6 C469.05,53.27 469.33,56.6 469.6,60 C469.87,63.4 470.03,66.17 470.3,70 C470.57,73.83 470.8,78.25 471.2,83 C471.6,87.75 472.2,94.38 472.7,98.5 C473.2,102.62 473.57,105.15 474.2,107.7 C474.83,110.25 475.87,112.23 476.5,113.8 C477.13,115.37 477.75,116.55 478,117.1" fill="none" stroke="#2e3a3a" stroke-width="0.8"/>
<line x1="456.5" y1="97.4" x2="480.7" y2="97.4" stroke="#1c1c1c" stroke-width="1.2"/>
<line x1="456.5" y1="95.2" x2="456.5" y2="99.6" stroke="#1c1c1c" stroke-width="1"/>
<line x1="480.7" y1="95.2" x2="480.7" y2="99.6" stroke="#1c1c1c" stroke-width="1"/>
<rect x="411.6" y="14.8" width="101.1" height="102.3" fill="none" stroke="#1a1a1a" stroke-width="1.4"/>
<line x1="409.6" y1="117.1" x2="512.7" y2="117.1" stroke="#1c1c1c" stroke-width="1.7"/>
<line x1="419" y1="117.1" x2="419" y2="120.1" stroke="#1c1c1c" stroke-width="1"/>
<text x="419" y="130.8" font-size="7.4" text-anchor="middle" font-weight="normal" fill="#1c1c1c" stroke="#1c1c1c" stroke-width="0.18">&#8722;10<tspan dy="-2.9" font-size="5" stroke="#1c1c1c" stroke-width="0.2">3</tspan></text>
<line x1="438.8" y1="117.1" x2="438.8" y2="120.1" stroke="#1c1c1c" stroke-width="1"/>
<text x="438.8" y="130.8" font-size="7.4" text-anchor="middle" font-weight="normal" fill="#1c1c1c" stroke="#1c1c1c" stroke-width="0.18">0</text>
<line x1="458.5" y1="117.1" x2="458.5" y2="120.1" stroke="#1c1c1c" stroke-width="1"/>
<text x="458.5" y="130.8" font-size="7.4" text-anchor="middle" font-weight="normal" fill="#1c1c1c" stroke="#1c1c1c" stroke-width="0.18">10<tspan dy="-2.9" font-size="5" stroke="#1c1c1c" stroke-width="0.2">3</tspan></text>
<line x1="482" y1="117.1" x2="482" y2="120.1" stroke="#1c1c1c" stroke-width="1"/>
<text x="482" y="130.8" font-size="7.4" text-anchor="middle" font-weight="normal" fill="#1c1c1c" stroke="#1c1c1c" stroke-width="0.18">10<tspan dy="-2.9" font-size="5" stroke="#1c1c1c" stroke-width="0.2">4</tspan></text>
<line x1="504.5" y1="117.1" x2="504.5" y2="120.1" stroke="#1c1c1c" stroke-width="1"/>
<text x="504.5" y="130.8" font-size="7.4" text-anchor="middle" font-weight="normal" fill="#1c1c1c" stroke="#1c1c1c" stroke-width="0.18">10<tspan dy="-2.9" font-size="5" stroke="#1c1c1c" stroke-width="0.2">5</tspan></text>
<text x="493.5" y="24.2" font-size="8" text-anchor="middle" font-weight="normal" fill="#1c1c1c" stroke="#1c1c1c" stroke-width="0.18">% CD64+</text>
<text x="493.5" y="33.5" font-size="7.5" text-anchor="middle" font-weight="normal" fill="#1c1c1c" stroke="#1c1c1c" stroke-width="0.18">85,5</text>
<line x1="343.57" y1="117.1" x2="343.57" y2="119.5" stroke="#1c1c1c" stroke-width="0.8"/>
<line x1="347.71" y1="117.1" x2="347.71" y2="119.5" stroke="#1c1c1c" stroke-width="0.8"/>
<line x1="350.65" y1="117.1" x2="350.65" y2="119.5" stroke="#1c1c1c" stroke-width="0.8"/>
<line x1="352.93" y1="117.1" x2="352.93" y2="119.5" stroke="#1c1c1c" stroke-width="0.8"/>
<line x1="354.79" y1="117.1" x2="354.79" y2="119.5" stroke="#1c1c1c" stroke-width="0.8"/>
<line x1="356.36" y1="117.1" x2="356.36" y2="119.5" stroke="#1c1c1c" stroke-width="0.8"/>
<line x1="357.72" y1="117.1" x2="357.72" y2="119.5" stroke="#1c1c1c" stroke-width="0.8"/>
<line x1="358.92" y1="117.1" x2="358.92" y2="119.5" stroke="#1c1c1c" stroke-width="0.8"/>
<line x1="367.07" y1="117.1" x2="367.07" y2="119.5" stroke="#1c1c1c" stroke-width="0.8"/>
<line x1="371.21" y1="117.1" x2="371.21" y2="119.5" stroke="#1c1c1c" stroke-width="0.8"/>
<line x1="374.15" y1="117.1" x2="374.15" y2="119.5" stroke="#1c1c1c" stroke-width="0.8"/>
<line x1="376.43" y1="117.1" x2="376.43" y2="119.5" stroke="#1c1c1c" stroke-width="0.8"/>
<line x1="378.29" y1="117.1" x2="378.29" y2="119.5" stroke="#1c1c1c" stroke-width="0.8"/>
<line x1="379.86" y1="117.1" x2="379.86" y2="119.5" stroke="#1c1c1c" stroke-width="0.8"/>
<line x1="381.22" y1="117.1" x2="381.22" y2="119.5" stroke="#1c1c1c" stroke-width="0.8"/>
<line x1="382.42" y1="117.1" x2="382.42" y2="119.5" stroke="#1c1c1c" stroke-width="0.8"/>
<line x1="293" y1="117.1" x2="293" y2="119.5" stroke="#1c1c1c" stroke-width="0.8"/>
<line x1="295.6" y1="117.1" x2="295.6" y2="119.5" stroke="#1c1c1c" stroke-width="0.8"/>
<line x1="298.2" y1="117.1" x2="298.2" y2="119.5" stroke="#1c1c1c" stroke-width="0.8"/>
<line x1="300.8" y1="117.1" x2="300.8" y2="119.5" stroke="#1c1c1c" stroke-width="0.8"/>
<line x1="303.4" y1="117.1" x2="303.4" y2="119.5" stroke="#1c1c1c" stroke-width="0.8"/>
<line x1="306" y1="117.1" x2="306" y2="119.5" stroke="#1c1c1c" stroke-width="0.8"/>
<line x1="308.6" y1="117.1" x2="308.6" y2="119.5" stroke="#1c1c1c" stroke-width="0.8"/>
<line x1="311.2" y1="117.1" x2="311.2" y2="119.5" stroke="#1c1c1c" stroke-width="0.8"/>
<line x1="313.8" y1="117.1" x2="313.8" y2="119.5" stroke="#1c1c1c" stroke-width="0.8"/>
<line x1="316.4" y1="117.1" x2="316.4" y2="119.5" stroke="#1c1c1c" stroke-width="0.8"/>
<line x1="319" y1="117.1" x2="319" y2="119.5" stroke="#1c1c1c" stroke-width="0.8"/>
<line x1="321.6" y1="117.1" x2="321.6" y2="119.5" stroke="#1c1c1c" stroke-width="0.8"/>
<line x1="324.2" y1="117.1" x2="324.2" y2="119.5" stroke="#1c1c1c" stroke-width="0.8"/>
<line x1="326.8" y1="117.1" x2="326.8" y2="119.5" stroke="#1c1c1c" stroke-width="0.8"/>
<line x1="329.4" y1="117.1" x2="329.4" y2="119.5" stroke="#1c1c1c" stroke-width="0.8"/>
<line x1="332" y1="117.1" x2="332" y2="119.5" stroke="#1c1c1c" stroke-width="0.8"/>
<line x1="334.6" y1="117.1" x2="334.6" y2="119.5" stroke="#1c1c1c" stroke-width="0.8"/>
<line x1="465.57" y1="117.1" x2="465.57" y2="119.5" stroke="#1c1c1c" stroke-width="0.8"/>
<line x1="469.71" y1="117.1" x2="469.71" y2="119.5" stroke="#1c1c1c" stroke-width="0.8"/>
<line x1="472.65" y1="117.1" x2="472.65" y2="119.5" stroke="#1c1c1c" stroke-width="0.8"/>
<line x1="474.93" y1="117.1" x2="474.93" y2="119.5" stroke="#1c1c1c" stroke-width="0.8"/>
<line x1="476.79" y1="117.1" x2="476.79" y2="119.5" stroke="#1c1c1c" stroke-width="0.8"/>
<line x1="478.36" y1="117.1" x2="478.36" y2="119.5" stroke="#1c1c1c" stroke-width="0.8"/>
<line x1="479.72" y1="117.1" x2="479.72" y2="119.5" stroke="#1c1c1c" stroke-width="0.8"/>
<line x1="480.92" y1="117.1" x2="480.92" y2="119.5" stroke="#1c1c1c" stroke-width="0.8"/>
<line x1="489.07" y1="117.1" x2="489.07" y2="119.5" stroke="#1c1c1c" stroke-width="0.8"/>
<line x1="493.21" y1="117.1" x2="493.21" y2="119.5" stroke="#1c1c1c" stroke-width="0.8"/>
<line x1="496.15" y1="117.1" x2="496.15" y2="119.5" stroke="#1c1c1c" stroke-width="0.8"/>
<line x1="498.43" y1="117.1" x2="498.43" y2="119.5" stroke="#1c1c1c" stroke-width="0.8"/>
<line x1="500.29" y1="117.1" x2="500.29" y2="119.5" stroke="#1c1c1c" stroke-width="0.8"/>
<line x1="501.86" y1="117.1" x2="501.86" y2="119.5" stroke="#1c1c1c" stroke-width="0.8"/>
<line x1="503.22" y1="117.1" x2="503.22" y2="119.5" stroke="#1c1c1c" stroke-width="0.8"/>
<line x1="504.42" y1="117.1" x2="504.42" y2="119.5" stroke="#1c1c1c" stroke-width="0.8"/>
<line x1="415" y1="117.1" x2="415" y2="119.5" stroke="#1c1c1c" stroke-width="0.8"/>
<line x1="417.6" y1="117.1" x2="417.6" y2="119.5" stroke="#1c1c1c" stroke-width="0.8"/>
<line x1="420.2" y1="117.1" x2="420.2" y2="119.5" stroke="#1c1c1c" stroke-width="0.8"/>
<line x1="422.8" y1="117.1" x2="422.8" y2="119.5" stroke="#1c1c1c" stroke-width="0.8"/>
<line x1="425.4" y1="117.1" x2="425.4" y2="119.5" stroke="#1c1c1c" stroke-width="0.8"/>
<line x1="428" y1="117.1" x2="428" y2="119.5" stroke="#1c1c1c" stroke-width="0.8"/>
<line x1="430.6" y1="117.1" x2="430.6" y2="119.5" stroke="#1c1c1c" stroke-width="0.8"/>
<line x1="433.2" y1="117.1" x2="433.2" y2="119.5" stroke="#1c1c1c" stroke-width="0.8"/>
<line x1="435.8" y1="117.1" x2="435.8" y2="119.5" stroke="#1c1c1c" stroke-width="0.8"/>
<line x1="441" y1="117.1" x2="441" y2="119.5" stroke="#1c1c1c" stroke-width="0.8"/>
<line x1="443.6" y1="117.1" x2="443.6" y2="119.5" stroke="#1c1c1c" stroke-width="0.8"/>
<line x1="446.2" y1="117.1" x2="446.2" y2="119.5" stroke="#1c1c1c" stroke-width="0.8"/>
<line x1="448.8" y1="117.1" x2="448.8" y2="119.5" stroke="#1c1c1c" stroke-width="0.8"/>
<line x1="451.4" y1="117.1" x2="451.4" y2="119.5" stroke="#1c1c1c" stroke-width="0.8"/>
<line x1="454" y1="117.1" x2="454" y2="119.5" stroke="#1c1c1c" stroke-width="0.8"/>
<line x1="456.6" y1="117.1" x2="456.6" y2="119.5" stroke="#1c1c1c" stroke-width="0.8"/>
<text x="6.29" y="152.9" font-size="10.8" text-anchor="start" font-weight="bold" fill="#000" stroke="#000" stroke-width="0.35">B</text>
<rect x="48.9" y="153.2" width="6.6" height="6.4" fill="#c4c6c6" stroke="#8f9494" stroke-width="0.8"/>
<rect x="48.9" y="164" width="6.6" height="6.4" fill="#fff" stroke="#8f9494" stroke-width="0.8"/>
<text x="59.2" y="158.6" font-size="7.2" text-anchor="start" font-weight="normal" fill="#222" textLength="52.4" lengthAdjust="spacingAndGlyphs" stroke-width="0">iM&#966; w/o particles</text>
<text x="59.2" y="169.6" font-size="7.2" text-anchor="start" font-weight="normal" fill="#222" textLength="67.5" lengthAdjust="spacingAndGlyphs" stroke-width="0">iM&#966; with particles (6h)</text>
<line x1="45.9" y1="278" x2="48.9" y2="278" stroke="#1c1c1c" stroke-width="1"/>
<text x="44.4" y="280.6" font-size="7.5" text-anchor="end" font-weight="normal" fill="#1c1c1c" stroke="#1c1c1c" stroke-width="0.18">0</text>
<line x1="45.9" y1="255.02" x2="48.9" y2="255.02" stroke="#1c1c1c" stroke-width="1"/>
<text x="44.4" y="257.62" font-size="7.5" text-anchor="end" font-weight="normal" fill="#1c1c1c" stroke="#1c1c1c" stroke-width="0.18">200</text>
<line x1="45.9" y1="232.04" x2="48.9" y2="232.04" stroke="#1c1c1c" stroke-width="1"/>
<text x="44.4" y="234.64" font-size="7.5" text-anchor="end" font-weight="normal" fill="#1c1c1c" stroke="#1c1c1c" stroke-width="0.18">400</text>
<line x1="45.9" y1="209.06" x2="48.9" y2="209.06" stroke="#1c1c1c" stroke-width="1"/>
<text x="44.4" y="211.66" font-size="7.5" text-anchor="end" font-weight="normal" fill="#1c1c1c" stroke="#1c1c1c" stroke-width="0.18">600</text>
<line x1="45.9" y1="186.08" x2="48.9" y2="186.08" stroke="#1c1c1c" stroke-width="1"/>
<text x="44.4" y="188.68" font-size="7.5" text-anchor="end" font-weight="normal" fill="#1c1c1c" stroke="#1c1c1c" stroke-width="0.18">800</text>
<line x1="47.4" y1="272.25" x2="48.9" y2="272.25" stroke="#1c1c1c" stroke-width="0.8"/>
<line x1="47.4" y1="266.51" x2="48.9" y2="266.51" stroke="#1c1c1c" stroke-width="0.8"/>
<line x1="47.4" y1="260.76" x2="48.9" y2="260.76" stroke="#1c1c1c" stroke-width="0.8"/>
<line x1="47.4" y1="249.28" x2="48.9" y2="249.28" stroke="#1c1c1c" stroke-width="0.8"/>
<line x1="47.4" y1="243.53" x2="48.9" y2="243.53" stroke="#1c1c1c" stroke-width="0.8"/>
<line x1="47.4" y1="237.78" x2="48.9" y2="237.78" stroke="#1c1c1c" stroke-width="0.8"/>
<line x1="47.4" y1="226.3" x2="48.9" y2="226.3" stroke="#1c1c1c" stroke-width="0.8"/>
<line x1="47.4" y1="220.55" x2="48.9" y2="220.55" stroke="#1c1c1c" stroke-width="0.8"/>
<line x1="47.4" y1="214.81" x2="48.9" y2="214.81" stroke="#1c1c1c" stroke-width="0.8"/>
<line x1="47.4" y1="203.31" x2="48.9" y2="203.31" stroke="#1c1c1c" stroke-width="0.8"/>
<line x1="47.4" y1="197.57" x2="48.9" y2="197.57" stroke="#1c1c1c" stroke-width="0.8"/>
<line x1="47.4" y1="191.82" x2="48.9" y2="191.82" stroke="#1c1c1c" stroke-width="0.8"/>
<line x1="47.4" y1="180.33" x2="48.9" y2="180.33" stroke="#1c1c1c" stroke-width="0.8"/>
<path d="M49.2,278 C49.38,277.28 49.87,275.45 50.3,273.7 C50.73,271.95 51.22,270.32 51.8,267.5 C52.38,264.68 53.15,261.15 53.8,256.8 C54.45,252.45 55.18,245.73 55.7,241.4 C56.22,237.07 56.5,234.48 56.9,230.8 C57.3,227.12 57.67,223.63 58.1,219.3 C58.53,214.97 58.97,209.37 59.5,204.8 C60.03,200.23 60.7,195.02 61.3,191.9 C61.9,188.78 62.43,188.03 63.1,186.1 C63.77,184.17 64.73,180.53 65.3,180.3 C65.87,180.07 66.13,183.02 66.5,184.7 C66.87,186.38 67.1,188.25 67.5,190.4 C67.9,192.55 68.3,194.72 68.9,197.6 C69.5,200.48 70.38,204.08 71.1,207.7 C71.82,211.32 72.63,215.75 73.2,219.3 C73.77,222.85 74.08,225.32 74.5,229 C74.92,232.68 75.25,236.77 75.7,241.4 C76.15,246.03 76.68,252.7 77.2,256.8 C77.72,260.9 78.23,263.18 78.8,266 C79.37,268.82 79.97,271.7 80.6,273.7 C81.23,275.7 82.27,277.28 82.6,278 Z" fill="#d8e1e1" stroke="#a9bcbc" stroke-width="0.8"/>
<path d="M49.5,274.9 C50.78,275.08 54.63,275.73 57.2,276 C59.77,276.27 62.58,276.68 64.9,276.5 C67.22,276.32 69.3,276.02 71.1,274.9 C72.9,273.78 74.3,271.67 75.7,269.8 C77.1,267.93 78.35,265.62 79.5,263.7 C80.65,261.78 81.7,260.22 82.6,258.3 C83.5,256.38 84.13,255.02 84.9,252.2 C85.67,249.38 86.65,244.97 87.2,241.4 C87.75,237.83 87.88,234 88.2,230.8 C88.52,227.6 88.58,226.05 89.1,222.2 C89.62,218.35 90.58,212.27 91.3,207.7 C92.02,203.13 92.68,198.12 93.4,194.8 C94.12,191.48 94.87,187.8 95.6,187.8 C96.33,187.8 97.13,191.48 97.8,194.8 C98.47,198.12 99.03,203.13 99.6,207.7 C100.17,212.27 100.78,218.35 101.2,222.2 C101.62,226.05 101.73,227.6 102.1,230.8 C102.47,234 102.8,237.58 103.4,241.4 C104,245.22 104.8,249.6 105.7,253.7 C106.6,257.8 107.78,262.8 108.8,266 C109.82,269.2 110.65,270.9 111.8,272.9 C112.95,274.9 115.05,277.15 115.7,278" fill="none" stroke="#2e3a3a" stroke-width="0.8"/>
<line x1="78.5" y1="254.8" x2="119.5" y2="254.8" stroke="#555" stroke-width="1.2"/>
<line x1="78.5" y1="252.6" x2="78.5" y2="257" stroke="#555" stroke-width="1"/>
<line x1="119.5" y1="252.6" x2="119.5" y2="257" stroke="#555" stroke-width="1"/>
<rect x="48.9" y="175.6" width="102.4" height="102.4" fill="none" stroke="#1a1a1a" stroke-width="1.4"/>
<line x1="48.9" y1="278" x2="48.9" y2="281" stroke="#1c1c1c" stroke-width="1"/>
<text x="45" y="291.3" font-size="7.6" fill="#1c1c1c">10<tspan dy="-2.9" font-size="5" stroke="#1c1c1c" stroke-width="0.2">0</tspan></text>
<line x1="56.55" y1="278" x2="56.55" y2="279.8" stroke="#1c1c1c" stroke-width="0.7"/>
<line x1="61.02" y1="278" x2="61.02" y2="279.8" stroke="#1c1c1c" stroke-width="0.7"/>
<line x1="64.19" y1="278" x2="64.19" y2="279.8" stroke="#1c1c1c" stroke-width="0.7"/>
<line x1="66.65" y1="278" x2="66.65" y2="279.8" stroke="#1c1c1c" stroke-width="0.7"/>
<line x1="68.67" y1="278" x2="68.67" y2="279.8" stroke="#1c1c1c" stroke-width="0.7"/>
<line x1="70.37" y1="278" x2="70.37" y2="279.8" stroke="#1c1c1c" stroke-width="0.7"/>
<line x1="71.84" y1="278" x2="71.84" y2="279.8" stroke="#1c1c1c" stroke-width="0.7"/>
<line x1="73.14" y1="278" x2="73.14" y2="279.8" stroke="#1c1c1c" stroke-width="0.7"/>
<line x1="74.3" y1="278" x2="74.3" y2="281" stroke="#1c1c1c" stroke-width="1"/>
<text x="70.4" y="291.3" font-size="7.6" fill="#1c1c1c">10<tspan dy="-2.9" font-size="5" stroke="#1c1c1c" stroke-width="0.2">1</tspan></text>
<line x1="81.95" y1="278" x2="81.95" y2="279.8" stroke="#1c1c1c" stroke-width="0.7"/>
<line x1="86.42" y1="278" x2="86.42" y2="279.8" stroke="#1c1c1c" stroke-width="0.7"/>
<line x1="89.59" y1="278" x2="89.59" y2="279.8" stroke="#1c1c1c" stroke-width="0.7"/>
<line x1="92.05" y1="278" x2="92.05" y2="279.8" stroke="#1c1c1c" stroke-width="0.7"/>
<line x1="94.07" y1="278" x2="94.07" y2="279.8" stroke="#1c1c1c" stroke-width="0.7"/>
<line x1="95.77" y1="278" x2="95.77" y2="279.8" stroke="#1c1c1c" stroke-width="0.7"/>
<line x1="97.24" y1="278" x2="97.24" y2="279.8" stroke="#1c1c1c" stroke-width="0.7"/>
<line x1="98.54" y1="278" x2="98.54" y2="279.8" stroke="#1c1c1c" stroke-width="0.7"/>
<line x1="99.7" y1="278" x2="99.7" y2="281" stroke="#1c1c1c" stroke-width="1"/>
<text x="95.8" y="291.3" font-size="7.6" fill="#1c1c1c">10<tspan dy="-2.9" font-size="5" stroke="#1c1c1c" stroke-width="0.2">2</tspan></text>
<line x1="107.35" y1="278" x2="107.35" y2="279.8" stroke="#1c1c1c" stroke-width="0.7"/>
<line x1="111.82" y1="278" x2="111.82" y2="279.8" stroke="#1c1c1c" stroke-width="0.7"/>
<line x1="114.99" y1="278" x2="114.99" y2="279.8" stroke="#1c1c1c" stroke-width="0.7"/>
<line x1="117.45" y1="278" x2="117.45" y2="279.8" stroke="#1c1c1c" stroke-width="0.7"/>
<line x1="119.47" y1="278" x2="119.47" y2="279.8" stroke="#1c1c1c" stroke-width="0.7"/>
<line x1="121.17" y1="278" x2="121.17" y2="279.8" stroke="#1c1c1c" stroke-width="0.7"/>
<line x1="122.64" y1="278" x2="122.64" y2="279.8" stroke="#1c1c1c" stroke-width="0.7"/>
<line x1="123.94" y1="278" x2="123.94" y2="279.8" stroke="#1c1c1c" stroke-width="0.7"/>
<line x1="125.1" y1="278" x2="125.1" y2="281" stroke="#1c1c1c" stroke-width="1"/>
<text x="121.2" y="291.3" font-size="7.6" fill="#1c1c1c">10<tspan dy="-2.9" font-size="5" stroke="#1c1c1c" stroke-width="0.2">3</tspan></text>
<line x1="132.75" y1="278" x2="132.75" y2="279.8" stroke="#1c1c1c" stroke-width="0.7"/>
<line x1="137.22" y1="278" x2="137.22" y2="279.8" stroke="#1c1c1c" stroke-width="0.7"/>
<line x1="140.39" y1="278" x2="140.39" y2="279.8" stroke="#1c1c1c" stroke-width="0.7"/>
<line x1="142.85" y1="278" x2="142.85" y2="279.8" stroke="#1c1c1c" stroke-width="0.7"/>
<line x1="144.87" y1="278" x2="144.87" y2="279.8" stroke="#1c1c1c" stroke-width="0.7"/>
<line x1="146.57" y1="278" x2="146.57" y2="279.8" stroke="#1c1c1c" stroke-width="0.7"/>
<line x1="148.04" y1="278" x2="148.04" y2="279.8" stroke="#1c1c1c" stroke-width="0.7"/>
<line x1="149.34" y1="278" x2="149.34" y2="279.8" stroke="#1c1c1c" stroke-width="0.7"/>
<line x1="150.5" y1="278" x2="150.5" y2="281" stroke="#1c1c1c" stroke-width="1"/>
<text x="146.6" y="291.3" font-size="7.6" fill="#1c1c1c">10<tspan dy="-2.9" font-size="5" stroke="#1c1c1c" stroke-width="0.2">4</tspan></text>
<text x="118.3" y="183.4" font-size="7.4" text-anchor="middle" font-weight="normal" fill="#1c1c1c" stroke="#1c1c1c" stroke-width="0.18">% Phagocytic cells</text>
<text x="115.6" y="193.6" font-size="7.4" text-anchor="middle" font-weight="normal" fill="#1c1c1c" stroke="#1c1c1c" stroke-width="0.18">88,9</text>
<text x="181.36" y="152.9" font-size="10.8" text-anchor="start" font-weight="bold" fill="#000" stroke="#000" stroke-width="0.35">C</text>
<rect x="224.05" y="275.35" width="12.4" height="4.35" fill="#c60014"/>
<line x1="230.25" y1="275.35" x2="230.25" y2="274.04" stroke="#1c1c1c" stroke-width="1.25"/>
<line x1="228.55" y1="274.04" x2="231.95" y2="274.04" stroke="#1c1c1c" stroke-width="1.4"/>
<rect x="247" y="206.8" width="12.4" height="72.9" fill="#c60014"/>
<line x1="253.2" y1="206.8" x2="253.2" y2="178.73" stroke="#1c1c1c" stroke-width="1.25"/>
<line x1="251.5" y1="178.73" x2="254.9" y2="178.73" stroke="#1c1c1c" stroke-width="1.4"/>
<rect x="270.05" y="194.29" width="12.4" height="85.41" fill="#c60014"/>
<line x1="276.25" y1="194.29" x2="276.25" y2="178.73" stroke="#1c1c1c" stroke-width="1.25"/>
<line x1="274.55" y1="178.73" x2="277.95" y2="178.73" stroke="#1c1c1c" stroke-width="1.4"/>
<rect x="293.3" y="192.12" width="12.4" height="87.58" fill="#c60014"/>
<line x1="299.5" y1="192.12" x2="299.5" y2="178.73" stroke="#1c1c1c" stroke-width="1.25"/>
<line x1="297.8" y1="178.73" x2="301.2" y2="178.73" stroke="#1c1c1c" stroke-width="1.4"/>
<rect x="316.3" y="178.08" width="12.4" height="101.62" fill="#c60014"/>
<line x1="322.5" y1="178.08" x2="322.5" y2="171.55" stroke="#1c1c1c" stroke-width="1.25"/>
<line x1="320.8" y1="171.55" x2="324.2" y2="171.55" stroke="#1c1c1c" stroke-width="1.4"/>
<line x1="222" y1="167.3" x2="222" y2="280.4" stroke="#1c1c1c" stroke-width="1.5"/>
<line x1="221.3" y1="279.7" x2="335" y2="279.7" stroke="#1c1c1c" stroke-width="1.5"/>
<line x1="218.8" y1="279.7" x2="222" y2="279.7" stroke="#1c1c1c" stroke-width="1.1"/>
<text x="215.9" y="282" font-size="7.8" text-anchor="end" font-weight="normal" fill="#1c1c1c" stroke="#1c1c1c" stroke-width="0.18">0</text>
<line x1="218.8" y1="257.94" x2="222" y2="257.94" stroke="#1c1c1c" stroke-width="1.1"/>
<text x="215.9" y="260.24" font-size="7.8" text-anchor="end" font-weight="normal" fill="#1c1c1c" stroke="#1c1c1c" stroke-width="0.18">20</text>
<line x1="218.8" y1="236.18" x2="222" y2="236.18" stroke="#1c1c1c" stroke-width="1.1"/>
<text x="215.9" y="238.48" font-size="7.8" text-anchor="end" font-weight="normal" fill="#1c1c1c" stroke="#1c1c1c" stroke-width="0.18">40</text>
<line x1="218.8" y1="214.42" x2="222" y2="214.42" stroke="#1c1c1c" stroke-width="1.1"/>
<text x="215.9" y="216.72" font-size="7.8" text-anchor="end" font-weight="normal" fill="#1c1c1c" stroke="#1c1c1c" stroke-width="0.18">60</text>
<line x1="218.8" y1="192.66" x2="222" y2="192.66" stroke="#1c1c1c" stroke-width="1.1"/>
<text x="215.9" y="194.96" font-size="7.8" text-anchor="end" font-weight="normal" fill="#1c1c1c" stroke="#1c1c1c" stroke-width="0.18">80</text>
<line x1="218.8" y1="170.9" x2="222" y2="170.9" stroke="#1c1c1c" stroke-width="1.1"/>
<text x="215.9" y="173.2" font-size="7.8" text-anchor="end" font-weight="normal" fill="#1c1c1c" stroke="#1c1c1c" stroke-width="0.18">100</text>
<line x1="220" y1="268.82" x2="222" y2="268.82" stroke="#1c1c1c" stroke-width="0.9"/>
<line x1="220" y1="247.06" x2="222" y2="247.06" stroke="#1c1c1c" stroke-width="0.9"/>
<line x1="220" y1="225.3" x2="222" y2="225.3" stroke="#1c1c1c" stroke-width="0.9"/>
<line x1="220" y1="203.54" x2="222" y2="203.54" stroke="#1c1c1c" stroke-width="0.9"/>
<line x1="220" y1="181.78" x2="222" y2="181.78" stroke="#1c1c1c" stroke-width="0.9"/>
<line x1="230.25" y1="279.7" x2="230.25" y2="282.7" stroke="#1c1c1c" stroke-width="1.1"/>
<text x="230.25" y="291.7" font-size="7.8" text-anchor="middle" font-weight="normal" fill="#1c1c1c" stroke="#1c1c1c" stroke-width="0.18">0</text>
<line x1="253.2" y1="279.7" x2="253.2" y2="282.7" stroke="#1c1c1c" stroke-width="1.1"/>
<text x="253.2" y="291.7" font-size="7.8" text-anchor="middle" font-weight="normal" fill="#1c1c1c" stroke="#1c1c1c" stroke-width="0.18">2</text>
<line x1="276.25" y1="279.7" x2="276.25" y2="282.7" stroke="#1c1c1c" stroke-width="1.1"/>
<text x="276.25" y="291.7" font-size="7.8" text-anchor="middle" font-weight="normal" fill="#1c1c1c" stroke="#1c1c1c" stroke-width="0.18">4</text>
<line x1="299.5" y1="279.7" x2="299.5" y2="282.7" stroke="#1c1c1c" stroke-width="1.1"/>
<text x="299.5" y="291.7" font-size="7.8" text-anchor="middle" font-weight="normal" fill="#1c1c1c" stroke="#1c1c1c" stroke-width="0.18">6</text>
<line x1="322.5" y1="279.7" x2="322.5" y2="282.7" stroke="#1c1c1c" stroke-width="1.1"/>
<text x="322.5" y="291.7" font-size="7.8" text-anchor="middle" font-weight="normal" fill="#1c1c1c" stroke="#1c1c1c" stroke-width="0.18">24</text>
<text x="332.6" y="291.7" font-size="7.8" text-anchor="middle" font-weight="normal" fill="#1c1c1c" stroke="#1c1c1c" stroke-width="0.18">h</text>
<path d="M230.3,176.7 V174.5 H253.5 V176.7" fill="none" stroke="#1c1c1c" stroke-width="1.15"/>
<rect x="239.65" y="170.25" width="1.7" height="1.7" fill="#222"/>
<rect x="242.45" y="170.25" width="1.7" height="1.7" fill="#222"/>
<path d="M230.3,168.7 V166.5 H299.6 V168.7" fill="none" stroke="#1c1c1c" stroke-width="1.15"/>
<rect x="261.3" y="162.25" width="1.7" height="1.7" fill="#222"/>
<rect x="264.1" y="162.25" width="1.7" height="1.7" fill="#222"/>
<rect x="266.9" y="162.25" width="1.7" height="1.7" fill="#222"/>
<path d="M230.3,159.7 V157.5 H322.7 V159.7" fill="none" stroke="#1c1c1c" stroke-width="1.15"/>
<rect x="271.45" y="153.25" width="1.7" height="1.7" fill="#222"/>
<rect x="274.25" y="153.25" width="1.7" height="1.7" fill="#222"/>
<rect x="277.05" y="153.25" width="1.7" height="1.7" fill="#222"/>
<rect x="279.85" y="153.25" width="1.7" height="1.7" fill="#222"/>
<text transform="translate(199.4,223.4) rotate(-90)" x="0" y="0" font-size="7.8" text-anchor="middle" fill="#1c1c1c" stroke="#1c1c1c" stroke-width="0.2" textLength="53.5" lengthAdjust="spacingAndGlyphs">% Phagocytic cells</text>
<text x="355.39" y="152.9" font-size="10.8" text-anchor="start" font-weight="bold" fill="#000" stroke="#000" stroke-width="0.35">D</text>
<rect x="401.85" y="274.67" width="12.3" height="4.93" fill="#c60014"/>
<line x1="408" y1="274.67" x2="408" y2="270.73" stroke="#1c1c1c" stroke-width="1.25"/>
<line x1="406.3" y1="270.73" x2="409.7" y2="270.73" stroke="#1c1c1c" stroke-width="1.4"/>
<rect x="425.05" y="270.07" width="12.3" height="9.53" fill="#c60014"/>
<line x1="431.2" y1="270.07" x2="431.2" y2="267.44" stroke="#1c1c1c" stroke-width="1.25"/>
<line x1="429.5" y1="267.44" x2="432.9" y2="267.44" stroke="#1c1c1c" stroke-width="1.4"/>
<rect x="448.15" y="263.33" width="12.3" height="16.27" fill="#c60014"/>
<line x1="454.3" y1="263.33" x2="454.3" y2="261.69" stroke="#1c1c1c" stroke-width="1.25"/>
<line x1="452.6" y1="261.69" x2="456" y2="261.69" stroke="#1c1c1c" stroke-width="1.4"/>
<rect x="471.45" y="252.65" width="12.3" height="26.95" fill="#c60014"/>
<line x1="477.6" y1="252.65" x2="477.6" y2="241.8" stroke="#1c1c1c" stroke-width="1.25"/>
<line x1="475.9" y1="241.8" x2="479.3" y2="241.8" stroke="#1c1c1c" stroke-width="1.4"/>
<rect x="495.05" y="230.3" width="12.3" height="49.3" fill="#c60014"/>
<rect x="495.05" y="189.12" width="12.3" height="32.38" fill="#c60014"/>
<line x1="501.2" y1="189.12" x2="501.2" y2="173.16" stroke="#1c1c1c" stroke-width="1.25"/>
<line x1="499.5" y1="173.16" x2="502.9" y2="173.16" stroke="#1c1c1c" stroke-width="1.4"/>
<rect x="496.15" y="168.45" width="1.7" height="1.7" fill="#222"/>
<rect x="498.95" y="168.45" width="1.7" height="1.7" fill="#222"/>
<rect x="501.75" y="168.45" width="1.7" height="1.7" fill="#222"/>
<rect x="504.55" y="168.45" width="1.7" height="1.7" fill="#222"/>
<line x1="399.3" y1="167.7" x2="399.3" y2="221.5" stroke="#1c1c1c" stroke-width="1.35"/>
<line x1="399.3" y1="230.3" x2="399.3" y2="280.2" stroke="#1c1c1c" stroke-width="1.35"/>
<line x1="396.7" y1="221.5" x2="402.9" y2="221.5" stroke="#1c1c1c" stroke-width="1.3"/>
<line x1="396.7" y1="230.3" x2="402.9" y2="230.3" stroke="#1c1c1c" stroke-width="1.3"/>
<line x1="398.7" y1="279.6" x2="513.5" y2="279.6" stroke="#1c1c1c" stroke-width="1.35"/>
<line x1="396.1" y1="170.6" x2="399.3" y2="170.6" stroke="#1c1c1c" stroke-width="1.1"/>
<text x="393.5" y="173.1" font-size="7.8" text-anchor="end" font-weight="normal" fill="#1c1c1c" stroke="#1c1c1c" stroke-width="0.18">1000</text>
<line x1="396.1" y1="184.07" x2="399.3" y2="184.07" stroke="#1c1c1c" stroke-width="1.1"/>
<text x="393.5" y="186.57" font-size="7.8" text-anchor="end" font-weight="normal" fill="#1c1c1c" stroke="#1c1c1c" stroke-width="0.18">800</text>
<line x1="396.1" y1="197.53" x2="399.3" y2="197.53" stroke="#1c1c1c" stroke-width="1.1"/>
<text x="393.5" y="200.03" font-size="7.8" text-anchor="end" font-weight="normal" fill="#1c1c1c" stroke="#1c1c1c" stroke-width="0.18">600</text>
<line x1="396.1" y1="211" x2="399.3" y2="211" stroke="#1c1c1c" stroke-width="1.1"/>
<text x="393.5" y="213.5" font-size="7.8" text-anchor="end" font-weight="normal" fill="#1c1c1c" stroke="#1c1c1c" stroke-width="0.18">400</text>
<line x1="397.3" y1="177.33" x2="399.3" y2="177.33" stroke="#1c1c1c" stroke-width="0.9"/>
<line x1="397.3" y1="190.8" x2="399.3" y2="190.8" stroke="#1c1c1c" stroke-width="0.9"/>
<line x1="397.3" y1="204.27" x2="399.3" y2="204.27" stroke="#1c1c1c" stroke-width="0.9"/>
<line x1="397.3" y1="217.73" x2="399.3" y2="217.73" stroke="#1c1c1c" stroke-width="0.9"/>
<line x1="396.1" y1="279.6" x2="399.3" y2="279.6" stroke="#1c1c1c" stroke-width="1.1"/>
<text x="393.5" y="282.1" font-size="7.8" text-anchor="end" font-weight="normal" fill="#1c1c1c" stroke="#1c1c1c" stroke-width="0.18">0</text>
<line x1="396.1" y1="263.17" x2="399.3" y2="263.17" stroke="#1c1c1c" stroke-width="1.1"/>
<text x="393.5" y="265.67" font-size="7.8" text-anchor="end" font-weight="normal" fill="#1c1c1c" stroke="#1c1c1c" stroke-width="0.18">50</text>
<line x1="396.1" y1="246.73" x2="399.3" y2="246.73" stroke="#1c1c1c" stroke-width="1.1"/>
<text x="393.5" y="249.23" font-size="7.8" text-anchor="end" font-weight="normal" fill="#1c1c1c" stroke="#1c1c1c" stroke-width="0.18">100</text>
<text x="393.5" y="232.8" font-size="7.8" text-anchor="end" font-weight="normal" fill="#1c1c1c" stroke="#1c1c1c" stroke-width="0.18">150</text>
<line x1="408" y1="279.6" x2="408" y2="282.6" stroke="#1c1c1c" stroke-width="1.1"/>
<text x="408" y="291.7" font-size="7.8" text-anchor="middle" font-weight="normal" fill="#1c1c1c" stroke="#1c1c1c" stroke-width="0.18">Ctrl</text>
<line x1="431.2" y1="279.6" x2="431.2" y2="282.6" stroke="#1c1c1c" stroke-width="1.1"/>
<text x="431.2" y="291.7" font-size="7.8" text-anchor="middle" font-weight="normal" fill="#1c1c1c" stroke="#1c1c1c" stroke-width="0.18">2</text>
<line x1="454.3" y1="279.6" x2="454.3" y2="282.6" stroke="#1c1c1c" stroke-width="1.1"/>
<text x="454.3" y="291.7" font-size="7.8" text-anchor="middle" font-weight="normal" fill="#1c1c1c" stroke="#1c1c1c" stroke-width="0.18">4</text>
<line x1="477.6" y1="279.6" x2="477.6" y2="282.6" stroke="#1c1c1c" stroke-width="1.1"/>
<text x="477.6" y="291.7" font-size="7.8" text-anchor="middle" font-weight="normal" fill="#1c1c1c" stroke="#1c1c1c" stroke-width="0.18">6</text>
<line x1="501.2" y1="279.6" x2="501.2" y2="282.6" stroke="#1c1c1c" stroke-width="1.1"/>
<text x="501.2" y="291.7" font-size="7.8" text-anchor="middle" font-weight="normal" fill="#1c1c1c" stroke="#1c1c1c" stroke-width="0.18">24</text>
<text x="511.5" y="291.7" font-size="7.8" text-anchor="middle" font-weight="normal" fill="#1c1c1c" stroke="#1c1c1c" stroke-width="0.18">h</text>
<path d="M408,238.7 V236.5 H478.2 V238.7" fill="none" stroke="#1c1c1c" stroke-width="1.15"/>
<text x="443.1" y="234.3" font-size="6.6" text-anchor="middle" font-weight="normal" fill="#333" stroke="#333" stroke-width="0.18">ns</text>
<text transform="translate(373.3,222.6) rotate(-90)" x="0" y="0" font-size="7.4" text-anchor="middle" fill="#1c1c1c" stroke="#1c1c1c" stroke-width="0.2" textLength="74.4" lengthAdjust="spacingAndGlyphs">Mean fluorescent intensity</text>
<text x="6.29" y="312.5" font-size="10.8" text-anchor="start" font-weight="bold" fill="#000" stroke="#000" stroke-width="0.35">E</text>
<line x1="49.2" y1="339.3" x2="49.2" y2="456" stroke="#1c1c1c" stroke-width="1.35"/>
<line x1="48.6" y1="455.4" x2="161" y2="455.4" stroke="#1c1c1c" stroke-width="1.35"/>
<line x1="46" y1="455.4" x2="49.2" y2="455.4" stroke="#1c1c1c" stroke-width="1.1"/>
<text x="43.7" y="457.9" font-size="7.8" text-anchor="end" font-weight="normal" fill="#1c1c1c" stroke="#1c1c1c" stroke-width="0.18">0</text>
<line x1="47.4" y1="446.85" x2="49.2" y2="446.85" stroke="#1c1c1c" stroke-width="0.8"/>
<line x1="47.4" y1="441.85" x2="49.2" y2="441.85" stroke="#1c1c1c" stroke-width="0.8"/>
<line x1="47.4" y1="438.3" x2="49.2" y2="438.3" stroke="#1c1c1c" stroke-width="0.8"/>
<line x1="47.4" y1="435.55" x2="49.2" y2="435.55" stroke="#1c1c1c" stroke-width="0.8"/>
<line x1="47.4" y1="433.3" x2="49.2" y2="433.3" stroke="#1c1c1c" stroke-width="0.8"/>
<line x1="47.4" y1="431.4" x2="49.2" y2="431.4" stroke="#1c1c1c" stroke-width="0.8"/>
<line x1="47.4" y1="429.75" x2="49.2" y2="429.75" stroke="#1c1c1c" stroke-width="0.8"/>
<line x1="47.4" y1="428.3" x2="49.2" y2="428.3" stroke="#1c1c1c" stroke-width="0.8"/>
<line x1="46" y1="427" x2="49.2" y2="427" stroke="#1c1c1c" stroke-width="1.1"/>
<text x="43.7" y="429.5" font-size="7.8" text-anchor="end" font-weight="normal" fill="#1c1c1c" stroke="#1c1c1c" stroke-width="0.18">1</text>
<line x1="47.4" y1="418.45" x2="49.2" y2="418.45" stroke="#1c1c1c" stroke-width="0.8"/>
<line x1="47.4" y1="413.45" x2="49.2" y2="413.45" stroke="#1c1c1c" stroke-width="0.8"/>
<line x1="47.4" y1="409.9" x2="49.2" y2="409.9" stroke="#1c1c1c" stroke-width="0.8"/>
<line x1="47.4" y1="407.15" x2="49.2" y2="407.15" stroke="#1c1c1c" stroke-width="0.8"/>
<line x1="47.4" y1="404.9" x2="49.2" y2="404.9" stroke="#1c1c1c" stroke-width="0.8"/>
<line x1="47.4" y1="403" x2="49.2" y2="403" stroke="#1c1c1c" stroke-width="0.8"/>
<line x1="47.4" y1="401.35" x2="49.2" y2="401.35" stroke="#1c1c1c" stroke-width="0.8"/>
<line x1="47.4" y1="399.9" x2="49.2" y2="399.9" stroke="#1c1c1c" stroke-width="0.8"/>
<line x1="46" y1="398.6" x2="49.2" y2="398.6" stroke="#1c1c1c" stroke-width="1.1"/>
<text x="43.7" y="401.1" font-size="7.8" text-anchor="end" font-weight="normal" fill="#1c1c1c" stroke="#1c1c1c" stroke-width="0.18">2</text>
<line x1="47.4" y1="390.05" x2="49.2" y2="390.05" stroke="#1c1c1c" stroke-width="0.8"/>
<line x1="47.4" y1="385.05" x2="49.2" y2="385.05" stroke="#1c1c1c" stroke-width="0.8"/>
<line x1="47.4" y1="381.5" x2="49.2" y2="381.5" stroke="#1c1c1c" stroke-width="0.8"/>
<line x1="47.4" y1="378.75" x2="49.2" y2="378.75" stroke="#1c1c1c" stroke-width="0.8"/>
<line x1="47.4" y1="376.5" x2="49.2" y2="376.5" stroke="#1c1c1c" stroke-width="0.8"/>
<line x1="47.4" y1="374.6" x2="49.2" y2="374.6" stroke="#1c1c1c" stroke-width="0.8"/>
<line x1="47.4" y1="372.95" x2="49.2" y2="372.95" stroke="#1c1c1c" stroke-width="0.8"/>
<line x1="47.4" y1="371.5" x2="49.2" y2="371.5" stroke="#1c1c1c" stroke-width="0.8"/>
<line x1="46" y1="370.2" x2="49.2" y2="370.2" stroke="#1c1c1c" stroke-width="1.1"/>
<text x="43.7" y="372.7" font-size="7.8" text-anchor="end" font-weight="normal" fill="#1c1c1c" stroke="#1c1c1c" stroke-width="0.18">3</text>
<line x1="47.4" y1="361.65" x2="49.2" y2="361.65" stroke="#1c1c1c" stroke-width="0.8"/>
<line x1="47.4" y1="356.65" x2="49.2" y2="356.65" stroke="#1c1c1c" stroke-width="0.8"/>
<line x1="47.4" y1="353.1" x2="49.2" y2="353.1" stroke="#1c1c1c" stroke-width="0.8"/>
<line x1="47.4" y1="350.35" x2="49.2" y2="350.35" stroke="#1c1c1c" stroke-width="0.8"/>
<line x1="47.4" y1="348.1" x2="49.2" y2="348.1" stroke="#1c1c1c" stroke-width="0.8"/>
<line x1="47.4" y1="346.2" x2="49.2" y2="346.2" stroke="#1c1c1c" stroke-width="0.8"/>
<line x1="47.4" y1="344.55" x2="49.2" y2="344.55" stroke="#1c1c1c" stroke-width="0.8"/>
<line x1="47.4" y1="343.1" x2="49.2" y2="343.1" stroke="#1c1c1c" stroke-width="0.8"/>
<line x1="46" y1="341.8" x2="49.2" y2="341.8" stroke="#1c1c1c" stroke-width="1.1"/>
<text x="43.7" y="344.3" font-size="7.8" text-anchor="end" font-weight="normal" fill="#1c1c1c" stroke="#1c1c1c" stroke-width="0.18">4</text>
<line x1="56.6" y1="455.4" x2="56.6" y2="458.4" stroke="#1c1c1c" stroke-width="1.1"/>
<text x="56.6" y="467" font-size="7.8" text-anchor="middle" font-weight="normal" fill="#1c1c1c" stroke="#1c1c1c" stroke-width="0.18">0.5</text>
<line x1="80.4" y1="455.4" x2="80.4" y2="458.4" stroke="#1c1c1c" stroke-width="1.1"/>
<text x="80.4" y="467" font-size="7.8" text-anchor="middle" font-weight="normal" fill="#1c1c1c" stroke="#1c1c1c" stroke-width="0.18">1</text>
<line x1="104.5" y1="455.4" x2="104.5" y2="458.4" stroke="#1c1c1c" stroke-width="1.1"/>
<text x="104.5" y="467" font-size="7.8" text-anchor="middle" font-weight="normal" fill="#1c1c1c" stroke="#1c1c1c" stroke-width="0.18">3</text>
<line x1="128.4" y1="455.4" x2="128.4" y2="458.4" stroke="#1c1c1c" stroke-width="1.1"/>
<text x="128.4" y="467" font-size="7.8" text-anchor="middle" font-weight="normal" fill="#1c1c1c" stroke="#1c1c1c" stroke-width="0.18">6</text>
<line x1="148.7" y1="455.4" x2="148.7" y2="458.4" stroke="#1c1c1c" stroke-width="1.1"/>
<text x="148.7" y="467" font-size="7.8" text-anchor="middle" font-weight="normal" fill="#1c1c1c" stroke="#1c1c1c" stroke-width="0.18">24</text>
<text x="158.8" y="467" font-size="7.8" text-anchor="middle" font-weight="normal" fill="#1c1c1c" stroke="#1c1c1c" stroke-width="0.18">h</text>
<line x1="80.4" y1="444.04" x2="80.4" y2="414.22" stroke="#1c1c1c" stroke-width="1.1"/>
<line x1="78.8" y1="444.04" x2="82" y2="444.04" stroke="#1c1c1c" stroke-width="1.1"/>
<line x1="78.8" y1="414.22" x2="82" y2="414.22" stroke="#1c1c1c" stroke-width="1.1"/>
<line x1="104.5" y1="441.77" x2="104.5" y2="429.56" stroke="#1c1c1c" stroke-width="1.1"/>
<line x1="102.9" y1="441.77" x2="106.1" y2="441.77" stroke="#1c1c1c" stroke-width="1.1"/>
<line x1="102.9" y1="429.56" x2="106.1" y2="429.56" stroke="#1c1c1c" stroke-width="1.1"/>
<line x1="128.4" y1="455.4" x2="128.4" y2="438.08" stroke="#1c1c1c" stroke-width="1.1"/>
<line x1="126.8" y1="455.4" x2="130" y2="455.4" stroke="#1c1c1c" stroke-width="1.1"/>
<line x1="126.8" y1="438.08" x2="130" y2="438.08" stroke="#1c1c1c" stroke-width="1.1"/>
<line x1="148.7" y1="455.4" x2="148.7" y2="445.46" stroke="#1c1c1c" stroke-width="1.1"/>
<line x1="147.1" y1="445.46" x2="150.3" y2="445.46" stroke="#1c1c1c" stroke-width="1.1"/>
<line x1="80.4" y1="394.62" x2="80.4" y2="386.67" stroke="#1c1c1c" stroke-width="1.1"/>
<line x1="78.8" y1="394.62" x2="82" y2="394.62" stroke="#1c1c1c" stroke-width="1.1"/>
<line x1="78.8" y1="386.67" x2="82" y2="386.67" stroke="#1c1c1c" stroke-width="1.1"/>
<line x1="104.5" y1="367.93" x2="104.5" y2="361.96" stroke="#1c1c1c" stroke-width="1.1"/>
<line x1="102.9" y1="367.93" x2="106.1" y2="367.93" stroke="#1c1c1c" stroke-width="1.1"/>
<line x1="102.9" y1="361.96" x2="106.1" y2="361.96" stroke="#1c1c1c" stroke-width="1.1"/>
<line x1="128.4" y1="369.35" x2="128.4" y2="355.15" stroke="#1c1c1c" stroke-width="1.1"/>
<line x1="126.8" y1="369.35" x2="130" y2="369.35" stroke="#1c1c1c" stroke-width="1.1"/>
<line x1="126.8" y1="355.15" x2="130" y2="355.15" stroke="#1c1c1c" stroke-width="1.1"/>
<line x1="148.7" y1="350.89" x2="148.7" y2="343.5" stroke="#1c1c1c" stroke-width="1.1"/>
<line x1="147.1" y1="350.89" x2="150.3" y2="350.89" stroke="#1c1c1c" stroke-width="1.1"/>
<line x1="147.1" y1="343.5" x2="150.3" y2="343.5" stroke="#1c1c1c" stroke-width="1.1"/>
<polyline points="56.6,398.6 80.4,422.17 104.5,434.38 128.4,444.61 148.7,454.83" fill="none" stroke="#c60014" stroke-width="1.9"/>
<circle cx="56.6" cy="398.6" r="1.9" fill="#c60014"/>
<circle cx="80.4" cy="422.17" r="1.9" fill="#c60014"/>
<circle cx="104.5" cy="434.38" r="1.9" fill="#c60014"/>
<circle cx="128.4" cy="444.61" r="1.9" fill="#c60014"/>
<circle cx="148.7" cy="454.83" r="1.9" fill="#c60014"/>
<polyline points="56.6,398.6 80.4,390.36 104.5,364.52 128.4,360.26 148.7,346.63" fill="none" stroke="#000" stroke-width="1.9"/>
<rect x="54.7" y="396.7" width="3.8" height="3.8" fill="#000"/>
<rect x="78.5" y="388.46" width="3.8" height="3.8" fill="#000"/>
<rect x="102.6" y="362.62" width="3.8" height="3.8" fill="#000"/>
<rect x="126.5" y="358.36" width="3.8" height="3.8" fill="#000"/>
<rect x="146.8" y="344.73" width="3.8" height="3.8" fill="#000"/>
<line x1="58" y1="334.3" x2="70.5" y2="334.3" stroke="#c60014" stroke-width="1.6"/>
<circle cx="64.2" cy="334.3" r="1.8" fill="#c60014"/>
<text x="73.5" y="336.8" font-size="7.5" text-anchor="start" font-weight="normal" fill="#1c1c1c" textLength="19" lengthAdjust="spacingAndGlyphs" stroke="#1c1c1c" stroke-width="0.18">+ iM&#966;</text>
<line x1="98.7" y1="334.3" x2="112.5" y2="334.3" stroke="#000" stroke-width="1.6"/>
<rect x="103.8" y="332.5" width="3.6" height="3.6" fill="#000"/>
<text x="114.5" y="336.8" font-size="7.5" text-anchor="start" font-weight="normal" fill="#1c1c1c" textLength="18.5" lengthAdjust="spacingAndGlyphs" stroke="#1c1c1c" stroke-width="0.18">&#8722; iM&#966;</text>
<text transform="translate(31.8,397.2) rotate(-90)" font-size="7.8" text-anchor="middle" fill="#1c1c1c" stroke="#1c1c1c" stroke-width="0.2" textLength="62" lengthAdjust="spacingAndGlyphs">Log<tspan font-size="5" dy="1.8">10</tspan><tspan dy="-1.8"> bacterial growth</tspan></text>
<text x="181.29" y="312.5" font-size="10.8" text-anchor="start" font-weight="bold" fill="#000" stroke="#000" stroke-width="0.35">F</text>
<rect x="223.8" y="348.4" width="12.4" height="106.9" fill="#c60014"/>
<rect x="242.4" y="415.75" width="12.4" height="39.55" fill="#c60014"/>
<line x1="248.6" y1="415.75" x2="248.6" y2="399.5" stroke="#1c1c1c" stroke-width="1.25"/>
<line x1="246.9" y1="399.5" x2="250.3" y2="399.5" stroke="#1c1c1c" stroke-width="1.4"/>
<rect x="260.8" y="444.61" width="12.4" height="10.69" fill="#c60014"/>
<line x1="267" y1="444.61" x2="267" y2="434.99" stroke="#1c1c1c" stroke-width="1.25"/>
<line x1="265.3" y1="434.99" x2="268.7" y2="434.99" stroke="#1c1c1c" stroke-width="1.4"/>
<rect x="279.4" y="448.35" width="12.4" height="6.95" fill="#c60014"/>
<line x1="285.6" y1="448.35" x2="285.6" y2="439.26" stroke="#1c1c1c" stroke-width="1.25"/>
<line x1="283.9" y1="439.26" x2="287.3" y2="439.26" stroke="#1c1c1c" stroke-width="1.4"/>
<rect x="297.6" y="454.23" width="12.4" height="1.07" fill="#c60014"/>
<line x1="303.8" y1="454.23" x2="303.8" y2="452.09" stroke="#1c1c1c" stroke-width="1.25"/>
<line x1="302.1" y1="452.09" x2="305.5" y2="452.09" stroke="#1c1c1c" stroke-width="1.4"/>
<rect x="316.2" y="454.4" width="12.4" height="0.9" fill="#c60014"/>
<line x1="322.4" y1="454.98" x2="322.4" y2="454.55" stroke="#1c1c1c" stroke-width="1.25"/>
<line x1="320.7" y1="454.55" x2="324.1" y2="454.55" stroke="#1c1c1c" stroke-width="1.4"/>
<line x1="222.2" y1="345" x2="222.2" y2="456" stroke="#1c1c1c" stroke-width="1.5"/>
<line x1="221.5" y1="455.3" x2="334.3" y2="455.3" stroke="#1c1c1c" stroke-width="1.5"/>
<line x1="219" y1="455.3" x2="222.2" y2="455.3" stroke="#1c1c1c" stroke-width="1.1"/>
<text x="216.1" y="457.6" font-size="7.8" text-anchor="end" font-weight="normal" fill="#1c1c1c" stroke="#1c1c1c" stroke-width="0.18">0</text>
<line x1="219" y1="433.92" x2="222.2" y2="433.92" stroke="#1c1c1c" stroke-width="1.1"/>
<text x="216.1" y="436.22" font-size="7.8" text-anchor="end" font-weight="normal" fill="#1c1c1c" stroke="#1c1c1c" stroke-width="0.18">20</text>
<line x1="219" y1="412.54" x2="222.2" y2="412.54" stroke="#1c1c1c" stroke-width="1.1"/>
<text x="216.1" y="414.84" font-size="7.8" text-anchor="end" font-weight="normal" fill="#1c1c1c" stroke="#1c1c1c" stroke-width="0.18">40</text>
<line x1="219" y1="391.16" x2="222.2" y2="391.16" stroke="#1c1c1c" stroke-width="1.1"/>
<text x="216.1" y="393.46" font-size="7.8" text-anchor="end" font-weight="normal" fill="#1c1c1c" stroke="#1c1c1c" stroke-width="0.18">60</text>
<line x1="219" y1="369.78" x2="222.2" y2="369.78" stroke="#1c1c1c" stroke-width="1.1"/>
<text x="216.1" y="372.08" font-size="7.8" text-anchor="end" font-weight="normal" fill="#1c1c1c" stroke="#1c1c1c" stroke-width="0.18">80</text>
<line x1="219" y1="348.4" x2="222.2" y2="348.4" stroke="#1c1c1c" stroke-width="1.1"/>
<text x="216.1" y="350.7" font-size="7.8" text-anchor="end" font-weight="normal" fill="#1c1c1c" stroke="#1c1c1c" stroke-width="0.18">100</text>
<line x1="230" y1="455.3" x2="230" y2="458.3" stroke="#1c1c1c" stroke-width="1.1"/>
<text x="230" y="467" font-size="7.8" text-anchor="middle" font-weight="normal" fill="#1c1c1c" stroke="#1c1c1c" stroke-width="0.18">0.5</text>
<line x1="248.6" y1="455.3" x2="248.6" y2="458.3" stroke="#1c1c1c" stroke-width="1.1"/>
<text x="248.6" y="467" font-size="7.8" text-anchor="middle" font-weight="normal" fill="#1c1c1c" stroke="#1c1c1c" stroke-width="0.18">1</text>
<line x1="267" y1="455.3" x2="267" y2="458.3" stroke="#1c1c1c" stroke-width="1.1"/>
<text x="267" y="467" font-size="7.8" text-anchor="middle" font-weight="normal" fill="#1c1c1c" stroke="#1c1c1c" stroke-width="0.18">3</text>
<line x1="285.6" y1="455.3" x2="285.6" y2="458.3" stroke="#1c1c1c" stroke-width="1.1"/>
<text x="285.6" y="467" font-size="7.8" text-anchor="middle" font-weight="normal" fill="#1c1c1c" stroke="#1c1c1c" stroke-width="0.18">6</text>
<line x1="303.8" y1="455.3" x2="303.8" y2="458.3" stroke="#1c1c1c" stroke-width="1.1"/>
<text x="303.8" y="467" font-size="7.8" text-anchor="middle" font-weight="normal" fill="#1c1c1c" stroke="#1c1c1c" stroke-width="0.18">9</text>
<line x1="322.4" y1="455.3" x2="322.4" y2="458.3" stroke="#1c1c1c" stroke-width="1.1"/>
<text x="322.4" y="467" font-size="7.8" text-anchor="middle" font-weight="normal" fill="#1c1c1c" stroke="#1c1c1c" stroke-width="0.18">24</text>
<text x="332.5" y="467" font-size="7.8" text-anchor="middle" font-weight="normal" fill="#1c1c1c" stroke="#1c1c1c" stroke-width="0.18">h</text>
<path d="M230.5,346.7 V344.5 H267 V346.7" fill="none" stroke="#1c1c1c" stroke-width="1.15"/>
<text x="248.75" y="342.3" font-size="6.6" text-anchor="middle" font-weight="normal" fill="#333" stroke="#333" stroke-width="0.18">ns</text>
<path d="M230.5,338.7 V336.5 H285.5 V338.7" fill="none" stroke="#1c1c1c" stroke-width="1.15"/>
<rect x="257.15" y="331.35" width="1.7" height="1.7" fill="#222"/>
<path d="M230.5,328.7 V326.5 H304 V328.7" fill="none" stroke="#1c1c1c" stroke-width="1.15"/>
<rect x="265" y="322.25" width="1.7" height="1.7" fill="#222"/>
<rect x="267.8" y="322.25" width="1.7" height="1.7" fill="#222"/>
<path d="M230.5,319.7 V317.5 H322.5 V319.7" fill="none" stroke="#1c1c1c" stroke-width="1.15"/>
<rect x="272.85" y="313.25" width="1.7" height="1.7" fill="#222"/>
<rect x="275.65" y="313.25" width="1.7" height="1.7" fill="#222"/>
<rect x="278.45" y="313.25" width="1.7" height="1.7" fill="#222"/>
<text transform="translate(188.7,401.4) rotate(-90)" font-size="8.4" text-anchor="middle" fill="#1c1c1c" stroke="#1c1c1c" stroke-width="0.2" textLength="69.2" lengthAdjust="spacingAndGlyphs">Extra-cellular CFU MOI 1</text>
<text transform="translate(199.6,400.4) rotate(-90)" font-size="8.4" text-anchor="middle" fill="#1c1c1c" stroke="#1c1c1c" stroke-width="0.2" textLength="58.4" lengthAdjust="spacingAndGlyphs">(normalized to 0.5 h)</text>
<text x="355.66" y="312.5" font-size="10.8" text-anchor="start" font-weight="bold" fill="#000" stroke="#000" stroke-width="0.35">G</text>
<rect x="401.8" y="349" width="12.4" height="106.2" fill="#c60014"/>
<rect x="420.4" y="383.51" width="12.4" height="71.69" fill="#c60014"/>
<line x1="426.6" y1="383.51" x2="426.6" y2="356.54" stroke="#1c1c1c" stroke-width="1.25"/>
<line x1="424.9" y1="356.54" x2="428.3" y2="356.54" stroke="#1c1c1c" stroke-width="1.4"/>
<rect x="439.1" y="424.93" width="12.4" height="30.27" fill="#c60014"/>
<line x1="445.3" y1="424.93" x2="445.3" y2="387.66" stroke="#1c1c1c" stroke-width="1.25"/>
<line x1="443.6" y1="387.66" x2="447" y2="387.66" stroke="#1c1c1c" stroke-width="1.4"/>
<rect x="457.8" y="422.28" width="12.4" height="32.92" fill="#c60014"/>
<line x1="464" y1="422.28" x2="464" y2="397.32" stroke="#1c1c1c" stroke-width="1.25"/>
<line x1="462.3" y1="397.32" x2="465.7" y2="397.32" stroke="#1c1c1c" stroke-width="1.4"/>
<rect x="476.3" y="437.68" width="12.4" height="17.52" fill="#c60014"/>
<line x1="482.5" y1="437.68" x2="482.5" y2="413.25" stroke="#1c1c1c" stroke-width="1.25"/>
<line x1="480.8" y1="413.25" x2="484.2" y2="413.25" stroke="#1c1c1c" stroke-width="1.4"/>
<rect x="495" y="453.61" width="12.4" height="1.59" fill="#c60014"/>
<line x1="501.2" y1="453.61" x2="501.2" y2="449.89" stroke="#1c1c1c" stroke-width="1.25"/>
<line x1="499.5" y1="449.89" x2="502.9" y2="449.89" stroke="#1c1c1c" stroke-width="1.4"/>
<line x1="399.6" y1="346.5" x2="399.6" y2="455.9" stroke="#1c1c1c" stroke-width="1.5"/>
<line x1="398.9" y1="455.2" x2="513.3" y2="455.2" stroke="#1c1c1c" stroke-width="1.5"/>
<line x1="396.4" y1="455.2" x2="399.6" y2="455.2" stroke="#1c1c1c" stroke-width="1.1"/>
<text x="393.5" y="457.5" font-size="7.8" text-anchor="end" font-weight="normal" fill="#1c1c1c" stroke="#1c1c1c" stroke-width="0.18">0</text>
<line x1="396.4" y1="433.96" x2="399.6" y2="433.96" stroke="#1c1c1c" stroke-width="1.1"/>
<text x="393.5" y="436.26" font-size="7.8" text-anchor="end" font-weight="normal" fill="#1c1c1c" stroke="#1c1c1c" stroke-width="0.18">20</text>
<line x1="396.4" y1="412.72" x2="399.6" y2="412.72" stroke="#1c1c1c" stroke-width="1.1"/>
<text x="393.5" y="415.02" font-size="7.8" text-anchor="end" font-weight="normal" fill="#1c1c1c" stroke="#1c1c1c" stroke-width="0.18">40</text>
<line x1="396.4" y1="391.48" x2="399.6" y2="391.48" stroke="#1c1c1c" stroke-width="1.1"/>
<text x="393.5" y="393.78" font-size="7.8" text-anchor="end" font-weight="normal" fill="#1c1c1c" stroke="#1c1c1c" stroke-width="0.18">60</text>
<line x1="396.4" y1="370.24" x2="399.6" y2="370.24" stroke="#1c1c1c" stroke-width="1.1"/>
<text x="393.5" y="372.54" font-size="7.8" text-anchor="end" font-weight="normal" fill="#1c1c1c" stroke="#1c1c1c" stroke-width="0.18">80</text>
<line x1="396.4" y1="349" x2="399.6" y2="349" stroke="#1c1c1c" stroke-width="1.1"/>
<text x="393.5" y="351.3" font-size="7.8" text-anchor="end" font-weight="normal" fill="#1c1c1c" stroke="#1c1c1c" stroke-width="0.18">100</text>
<line x1="408" y1="455.2" x2="408" y2="458.2" stroke="#1c1c1c" stroke-width="1.1"/>
<text x="408" y="467" font-size="7.8" text-anchor="middle" font-weight="normal" fill="#1c1c1c" stroke="#1c1c1c" stroke-width="0.18">0.5</text>
<line x1="426.6" y1="455.2" x2="426.6" y2="458.2" stroke="#1c1c1c" stroke-width="1.1"/>
<text x="426.6" y="467" font-size="7.8" text-anchor="middle" font-weight="normal" fill="#1c1c1c" stroke="#1c1c1c" stroke-width="0.18">1</text>
<line x1="445.3" y1="455.2" x2="445.3" y2="458.2" stroke="#1c1c1c" stroke-width="1.1"/>
<text x="445.3" y="467" font-size="7.8" text-anchor="middle" font-weight="normal" fill="#1c1c1c" stroke="#1c1c1c" stroke-width="0.18">3</text>
<line x1="464" y1="455.2" x2="464" y2="458.2" stroke="#1c1c1c" stroke-width="1.1"/>
<text x="464" y="467" font-size="7.8" text-anchor="middle" font-weight="normal" fill="#1c1c1c" stroke="#1c1c1c" stroke-width="0.18">6</text>
<line x1="482.5" y1="455.2" x2="482.5" y2="458.2" stroke="#1c1c1c" stroke-width="1.1"/>
<text x="482.5" y="467" font-size="7.8" text-anchor="middle" font-weight="normal" fill="#1c1c1c" stroke="#1c1c1c" stroke-width="0.18">9</text>
<line x1="501.2" y1="455.2" x2="501.2" y2="458.2" stroke="#1c1c1c" stroke-width="1.1"/>
<text x="501.2" y="467" font-size="7.8" text-anchor="middle" font-weight="normal" fill="#1c1c1c" stroke="#1c1c1c" stroke-width="0.18">24</text>
<text x="510.5" y="467" font-size="7.8" text-anchor="middle" font-weight="normal" fill="#1c1c1c" stroke="#1c1c1c" stroke-width="0.18">h</text>
<path d="M407.5,346.7 V344.5 H425.8 V346.7" fill="none" stroke="#1c1c1c" stroke-width="1.15"/>
<text x="416.65" y="342.3" font-size="6.6" text-anchor="middle" font-weight="normal" fill="#333" stroke="#333" stroke-width="0.18">ns</text>
<path d="M407.5,337.7 V335.5 H482.5 V337.7" fill="none" stroke="#1c1c1c" stroke-width="1.15"/>
<rect x="444.15" y="330.35" width="1.7" height="1.7" fill="#222"/>
<path d="M407.5,328.7 V326.5 H501.3 V328.7" fill="none" stroke="#1c1c1c" stroke-width="1.15"/>
<rect x="450.75" y="322.25" width="1.7" height="1.7" fill="#222"/>
<rect x="453.55" y="322.25" width="1.7" height="1.7" fill="#222"/>
<rect x="456.35" y="322.25" width="1.7" height="1.7" fill="#222"/>
<text transform="translate(362.4,400.5) rotate(-90)" font-size="8.4" text-anchor="middle" fill="#1c1c1c" stroke="#1c1c1c" stroke-width="0.2" textLength="68" lengthAdjust="spacingAndGlyphs">Intra-cellular CFU MOI 1</text>
<text transform="translate(373.3,400.3) rotate(-90)" font-size="8.4" text-anchor="middle" fill="#1c1c1c" stroke="#1c1c1c" stroke-width="0.2" textLength="58.6" lengthAdjust="spacingAndGlyphs">(normalized to 0.5 h)</text>
<text x="6.29" y="487.6" font-size="10.8" text-anchor="start" font-weight="bold" fill="#000" stroke="#000" stroke-width="0.35">H</text>
<rect x="50.6" y="522.31" width="12.4" height="103.39" fill="#c60014"/>
<rect x="68.9" y="603.12" width="12.4" height="22.58" fill="#c60014"/>
<line x1="75.1" y1="603.12" x2="75.1" y2="576.75" stroke="#1c1c1c" stroke-width="1.25"/>
<line x1="73.4" y1="576.75" x2="76.8" y2="576.75" stroke="#1c1c1c" stroke-width="1.4"/>
<rect x="87.1" y="616.21" width="12.4" height="9.5" fill="#c60014"/>
<line x1="93.3" y1="616.21" x2="93.3" y2="596.37" stroke="#1c1c1c" stroke-width="1.25"/>
<line x1="91.6" y1="596.37" x2="95" y2="596.37" stroke="#1c1c1c" stroke-width="1.4"/>
<rect x="105.8" y="622.54" width="12.4" height="3.16" fill="#c60014"/>
<line x1="112" y1="622.54" x2="112" y2="614.1" stroke="#1c1c1c" stroke-width="1.25"/>
<line x1="110.3" y1="614.1" x2="113.7" y2="614.1" stroke="#1c1c1c" stroke-width="1.4"/>
<rect x="124.1" y="624.43" width="12.4" height="1.27" fill="#c60014"/>
<line x1="130.3" y1="624.43" x2="130.3" y2="621.48" stroke="#1c1c1c" stroke-width="1.25"/>
<line x1="128.6" y1="621.48" x2="132" y2="621.48" stroke="#1c1c1c" stroke-width="1.4"/>
<line x1="48.9" y1="517.3" x2="48.9" y2="626.4" stroke="#1c1c1c" stroke-width="1.5"/>
<line x1="48.2" y1="625.7" x2="161.1" y2="625.7" stroke="#1c1c1c" stroke-width="1.5"/>
<line x1="45.7" y1="625.7" x2="48.9" y2="625.7" stroke="#1c1c1c" stroke-width="1.1"/>
<text x="42.8" y="628" font-size="7.8" text-anchor="end" font-weight="normal" fill="#1c1c1c" stroke="#1c1c1c" stroke-width="0.18">0</text>
<line x1="45.7" y1="604.6" x2="48.9" y2="604.6" stroke="#1c1c1c" stroke-width="1.1"/>
<text x="42.8" y="606.9" font-size="7.8" text-anchor="end" font-weight="normal" fill="#1c1c1c" stroke="#1c1c1c" stroke-width="0.18">20</text>
<line x1="45.7" y1="583.5" x2="48.9" y2="583.5" stroke="#1c1c1c" stroke-width="1.1"/>
<text x="42.8" y="585.8" font-size="7.8" text-anchor="end" font-weight="normal" fill="#1c1c1c" stroke="#1c1c1c" stroke-width="0.18">40</text>
<line x1="45.7" y1="562.4" x2="48.9" y2="562.4" stroke="#1c1c1c" stroke-width="1.1"/>
<text x="42.8" y="564.7" font-size="7.8" text-anchor="end" font-weight="normal" fill="#1c1c1c" stroke="#1c1c1c" stroke-width="0.18">60</text>
<line x1="45.7" y1="541.3" x2="48.9" y2="541.3" stroke="#1c1c1c" stroke-width="1.1"/>
<text x="42.8" y="543.6" font-size="7.8" text-anchor="end" font-weight="normal" fill="#1c1c1c" stroke="#1c1c1c" stroke-width="0.18">80</text>
<line x1="45.7" y1="520.2" x2="48.9" y2="520.2" stroke="#1c1c1c" stroke-width="1.1"/>
<text x="42.8" y="522.5" font-size="7.8" text-anchor="end" font-weight="normal" fill="#1c1c1c" stroke="#1c1c1c" stroke-width="0.18">100</text>
<line x1="56.8" y1="625.7" x2="56.8" y2="628.7" stroke="#1c1c1c" stroke-width="1.1"/>
<text x="56.8" y="637.5" font-size="7.8" text-anchor="middle" font-weight="normal" fill="#1c1c1c" stroke="#1c1c1c" stroke-width="0.18">0.5</text>
<line x1="75.1" y1="625.7" x2="75.1" y2="628.7" stroke="#1c1c1c" stroke-width="1.1"/>
<text x="75.1" y="637.5" font-size="7.8" text-anchor="middle" font-weight="normal" fill="#1c1c1c" stroke="#1c1c1c" stroke-width="0.18">1</text>
<line x1="93.3" y1="625.7" x2="93.3" y2="628.7" stroke="#1c1c1c" stroke-width="1.1"/>
<text x="93.3" y="637.5" font-size="7.8" text-anchor="middle" font-weight="normal" fill="#1c1c1c" stroke="#1c1c1c" stroke-width="0.18">3</text>
<line x1="112" y1="625.7" x2="112" y2="628.7" stroke="#1c1c1c" stroke-width="1.1"/>
<text x="112" y="637.5" font-size="7.8" text-anchor="middle" font-weight="normal" fill="#1c1c1c" stroke="#1c1c1c" stroke-width="0.18">6</text>
<line x1="130.3" y1="625.7" x2="130.3" y2="628.7" stroke="#1c1c1c" stroke-width="1.1"/>
<text x="130.3" y="637.5" font-size="7.8" text-anchor="middle" font-weight="normal" fill="#1c1c1c" stroke="#1c1c1c" stroke-width="0.18">9</text>
<line x1="148.5" y1="625.7" x2="148.5" y2="628.7" stroke="#1c1c1c" stroke-width="1.1"/>
<text x="148.5" y="637.5" font-size="7.8" text-anchor="middle" font-weight="normal" fill="#1c1c1c" stroke="#1c1c1c" stroke-width="0.18">24</text>
<text x="159.2" y="637.5" font-size="7.8" text-anchor="middle" font-weight="normal" fill="#1c1c1c" stroke="#1c1c1c" stroke-width="0.18">h</text>
<path d="M54.2,516.7 V514.5 H111.5 V516.7" fill="none" stroke="#1c1c1c" stroke-width="1.15"/>
<text x="82.85" y="512.3" font-size="6.6" text-anchor="middle" font-weight="normal" fill="#333" stroke="#333" stroke-width="0.18">ns</text>
<path d="M54.2,506.7 V504.5 H130.9 V506.7" fill="none" stroke="#1c1c1c" stroke-width="1.15"/>
<rect x="91.7" y="499.35" width="1.7" height="1.7" fill="#222"/>
<path d="M54.2,496.7 V494.5 H146.1 V496.7" fill="none" stroke="#1c1c1c" stroke-width="1.15"/>
<rect x="97.9" y="490.25" width="1.7" height="1.7" fill="#222"/>
<rect x="100.7" y="490.25" width="1.7" height="1.7" fill="#222"/>
<text transform="translate(13.7,571.8) rotate(-90)" font-size="8.4" text-anchor="middle" fill="#1c1c1c" stroke="#1c1c1c" stroke-width="0.2" textLength="69.2" lengthAdjust="spacingAndGlyphs">Extra-cellular CFU MOI 5</text>
<text transform="translate(24.4,570.6) rotate(-90)" font-size="8.4" text-anchor="middle" fill="#1c1c1c" stroke="#1c1c1c" stroke-width="0.2" textLength="58.4" lengthAdjust="spacingAndGlyphs">(normalized to 0.5 h)</text>
<text x="181.49" y="487.6" font-size="10.8" text-anchor="start" font-weight="bold" fill="#000" stroke="#000" stroke-width="0.35">I</text>
<rect x="223.8" y="519.75" width="12.4" height="105.75" fill="#c60014"/>
<rect x="242.55" y="610.17" width="12.4" height="15.33" fill="#c60014"/>
<line x1="248.75" y1="610.17" x2="248.75" y2="596.95" stroke="#1c1c1c" stroke-width="1.25"/>
<line x1="247.05" y1="596.95" x2="250.45" y2="596.95" stroke="#1c1c1c" stroke-width="1.4"/>
<rect x="260.8" y="620.21" width="12.4" height="5.29" fill="#c60014"/>
<line x1="267" y1="620.21" x2="267" y2="617.04" stroke="#1c1c1c" stroke-width="1.25"/>
<line x1="265.3" y1="617.04" x2="268.7" y2="617.04" stroke="#1c1c1c" stroke-width="1.4"/>
<rect x="279.3" y="622.96" width="12.4" height="2.54" fill="#c60014"/>
<line x1="285.5" y1="622.96" x2="285.5" y2="621.27" stroke="#1c1c1c" stroke-width="1.25"/>
<line x1="283.8" y1="621.27" x2="287.2" y2="621.27" stroke="#1c1c1c" stroke-width="1.4"/>
<rect x="297.6" y="624.6" width="12.4" height="0.9" fill="#c60014"/>
<line x1="303.8" y1="625.18" x2="303.8" y2="624.44" stroke="#1c1c1c" stroke-width="1.25"/>
<line x1="302.1" y1="624.44" x2="305.5" y2="624.44" stroke="#1c1c1c" stroke-width="1.4"/>
<rect x="315.8" y="624.6" width="12.4" height="0.9" fill="#c60014"/>
<line x1="322" y1="624.97" x2="322" y2="623.38" stroke="#1c1c1c" stroke-width="1.25"/>
<line x1="320.3" y1="623.38" x2="323.7" y2="623.38" stroke="#1c1c1c" stroke-width="1.4"/>
<line x1="222.2" y1="517.3" x2="222.2" y2="626.2" stroke="#1c1c1c" stroke-width="1.5"/>
<line x1="221.5" y1="625.5" x2="334.3" y2="625.5" stroke="#1c1c1c" stroke-width="1.5"/>
<line x1="219" y1="625.5" x2="222.2" y2="625.5" stroke="#1c1c1c" stroke-width="1.1"/>
<text x="216.1" y="627.8" font-size="7.8" text-anchor="end" font-weight="normal" fill="#1c1c1c" stroke="#1c1c1c" stroke-width="0.18">0</text>
<line x1="219" y1="604.35" x2="222.2" y2="604.35" stroke="#1c1c1c" stroke-width="1.1"/>
<text x="216.1" y="606.65" font-size="7.8" text-anchor="end" font-weight="normal" fill="#1c1c1c" stroke="#1c1c1c" stroke-width="0.18">20</text>
<line x1="219" y1="583.2" x2="222.2" y2="583.2" stroke="#1c1c1c" stroke-width="1.1"/>
<text x="216.1" y="585.5" font-size="7.8" text-anchor="end" font-weight="normal" fill="#1c1c1c" stroke="#1c1c1c" stroke-width="0.18">40</text>
<line x1="219" y1="562.05" x2="222.2" y2="562.05" stroke="#1c1c1c" stroke-width="1.1"/>
<text x="216.1" y="564.35" font-size="7.8" text-anchor="end" font-weight="normal" fill="#1c1c1c" stroke="#1c1c1c" stroke-width="0.18">60</text>
<line x1="219" y1="540.9" x2="222.2" y2="540.9" stroke="#1c1c1c" stroke-width="1.1"/>
<text x="216.1" y="543.2" font-size="7.8" text-anchor="end" font-weight="normal" fill="#1c1c1c" stroke="#1c1c1c" stroke-width="0.18">80</text>
<line x1="219" y1="519.75" x2="222.2" y2="519.75" stroke="#1c1c1c" stroke-width="1.1"/>
<text x="216.1" y="522.05" font-size="7.8" text-anchor="end" font-weight="normal" fill="#1c1c1c" stroke="#1c1c1c" stroke-width="0.18">100</text>
<line x1="230" y1="625.5" x2="230" y2="628.5" stroke="#1c1c1c" stroke-width="1.1"/>
<text x="230" y="637.6" font-size="7.8" text-anchor="middle" font-weight="normal" fill="#1c1c1c" stroke="#1c1c1c" stroke-width="0.18">0.5</text>
<line x1="248.75" y1="625.5" x2="248.75" y2="628.5" stroke="#1c1c1c" stroke-width="1.1"/>
<text x="248.75" y="637.6" font-size="7.8" text-anchor="middle" font-weight="normal" fill="#1c1c1c" stroke="#1c1c1c" stroke-width="0.18">1</text>
<line x1="267" y1="625.5" x2="267" y2="628.5" stroke="#1c1c1c" stroke-width="1.1"/>
<text x="267" y="637.6" font-size="7.8" text-anchor="middle" font-weight="normal" fill="#1c1c1c" stroke="#1c1c1c" stroke-width="0.18">3</text>
<line x1="285.5" y1="625.5" x2="285.5" y2="628.5" stroke="#1c1c1c" stroke-width="1.1"/>
<text x="285.5" y="637.6" font-size="7.8" text-anchor="middle" font-weight="normal" fill="#1c1c1c" stroke="#1c1c1c" stroke-width="0.18">6</text>
<line x1="303.8" y1="625.5" x2="303.8" y2="628.5" stroke="#1c1c1c" stroke-width="1.1"/>
<text x="303.8" y="637.6" font-size="7.8" text-anchor="middle" font-weight="normal" fill="#1c1c1c" stroke="#1c1c1c" stroke-width="0.18">9</text>
<line x1="322" y1="625.5" x2="322" y2="628.5" stroke="#1c1c1c" stroke-width="1.1"/>
<text x="322" y="637.6" font-size="7.8" text-anchor="middle" font-weight="normal" fill="#1c1c1c" stroke="#1c1c1c" stroke-width="0.18">24</text>
<text x="332.5" y="637.6" font-size="7.8" text-anchor="middle" font-weight="normal" fill="#1c1c1c" stroke="#1c1c1c" stroke-width="0.18">h</text>
<path d="M229.5,516.7 V514.5 H285.5 V516.7" fill="none" stroke="#1c1c1c" stroke-width="1.15"/>
<text x="257.5" y="512.3" font-size="6.6" text-anchor="middle" font-weight="normal" fill="#333" stroke="#333" stroke-width="0.18">ns</text>
<path d="M229.5,506.7 V504.5 H322.5 V506.7" fill="none" stroke="#1c1c1c" stroke-width="1.15"/>
<rect x="273.75" y="500.25" width="1.7" height="1.7" fill="#222"/>
<rect x="276.55" y="500.25" width="1.7" height="1.7" fill="#222"/>
<text transform="translate(189,571.9) rotate(-90)" font-size="8.4" text-anchor="middle" fill="#1c1c1c" stroke="#1c1c1c" stroke-width="0.2" textLength="68.3" lengthAdjust="spacingAndGlyphs">Intra-cellular CFU MOI 5</text>
<text transform="translate(199.8,570.8) rotate(-90)" font-size="8.4" text-anchor="middle" fill="#1c1c1c" stroke="#1c1c1c" stroke-width="0.2" textLength="58" lengthAdjust="spacingAndGlyphs">(normalized to 0.5 h)</text>
<text x="355.14" y="487.6" font-size="10.8" text-anchor="start" font-weight="bold" fill="#000" stroke="#000" stroke-width="0.35" textLength="4.6" lengthAdjust="spacingAndGlyphs">J</text>
<rect x="401.8" y="519.75" width="12.4" height="105.75" fill="#c60014"/>
<rect x="425.05" y="610.06" width="12.4" height="15.44" fill="#c60014"/>
<line x1="431.25" y1="610.06" x2="431.25" y2="604.35" stroke="#1c1c1c" stroke-width="1.25"/>
<line x1="429.55" y1="604.35" x2="432.95" y2="604.35" stroke="#1c1c1c" stroke-width="1.4"/>
<rect x="448.3" y="615.77" width="12.4" height="9.73" fill="#c60014"/>
<line x1="454.5" y1="615.77" x2="454.5" y2="609.64" stroke="#1c1c1c" stroke-width="1.25"/>
<line x1="452.8" y1="609.64" x2="456.2" y2="609.64" stroke="#1c1c1c" stroke-width="1.4"/>
<rect x="471.8" y="612.6" width="12.4" height="12.9" fill="#c60014"/>
<line x1="478" y1="612.6" x2="478" y2="606.89" stroke="#1c1c1c" stroke-width="1.25"/>
<line x1="476.3" y1="606.89" x2="479.7" y2="606.89" stroke="#1c1c1c" stroke-width="1.4"/>
<rect x="495.05" y="624.6" width="12.4" height="0.9" fill="#c60014"/>
<line x1="501.25" y1="624.97" x2="501.25" y2="622.33" stroke="#1c1c1c" stroke-width="1.25"/>
<line x1="499.55" y1="622.33" x2="502.95" y2="622.33" stroke="#1c1c1c" stroke-width="1.4"/>
<line x1="400" y1="517.3" x2="400" y2="626.2" stroke="#1c1c1c" stroke-width="1.5"/>
<line x1="399.3" y1="625.5" x2="513" y2="625.5" stroke="#1c1c1c" stroke-width="1.5"/>
<line x1="396.8" y1="625.5" x2="400" y2="625.5" stroke="#1c1c1c" stroke-width="1.1"/>
<text x="393.9" y="627.8" font-size="7.8" text-anchor="end" font-weight="normal" fill="#1c1c1c" stroke="#1c1c1c" stroke-width="0.18">0</text>
<line x1="396.8" y1="604.35" x2="400" y2="604.35" stroke="#1c1c1c" stroke-width="1.1"/>
<text x="393.9" y="606.65" font-size="7.8" text-anchor="end" font-weight="normal" fill="#1c1c1c" stroke="#1c1c1c" stroke-width="0.18">20</text>
<line x1="396.8" y1="583.2" x2="400" y2="583.2" stroke="#1c1c1c" stroke-width="1.1"/>
<text x="393.9" y="585.5" font-size="7.8" text-anchor="end" font-weight="normal" fill="#1c1c1c" stroke="#1c1c1c" stroke-width="0.18">40</text>
<line x1="396.8" y1="562.05" x2="400" y2="562.05" stroke="#1c1c1c" stroke-width="1.1"/>
<text x="393.9" y="564.35" font-size="7.8" text-anchor="end" font-weight="normal" fill="#1c1c1c" stroke="#1c1c1c" stroke-width="0.18">60</text>
<line x1="396.8" y1="540.9" x2="400" y2="540.9" stroke="#1c1c1c" stroke-width="1.1"/>
<text x="393.9" y="543.2" font-size="7.8" text-anchor="end" font-weight="normal" fill="#1c1c1c" stroke="#1c1c1c" stroke-width="0.18">80</text>
<line x1="396.8" y1="519.75" x2="400" y2="519.75" stroke="#1c1c1c" stroke-width="1.1"/>
<text x="393.9" y="522.05" font-size="7.8" text-anchor="end" font-weight="normal" fill="#1c1c1c" stroke="#1c1c1c" stroke-width="0.18">100</text>
<line x1="408" y1="625.5" x2="408" y2="628.5" stroke="#1c1c1c" stroke-width="1.1"/>
<text x="408" y="637.6" font-size="7.8" text-anchor="middle" font-weight="normal" fill="#1c1c1c" stroke="#1c1c1c" stroke-width="0.18">1</text>
<line x1="431.25" y1="625.5" x2="431.25" y2="628.5" stroke="#1c1c1c" stroke-width="1.1"/>
<text x="431.25" y="637.6" font-size="7.8" text-anchor="middle" font-weight="normal" fill="#1c1c1c" stroke="#1c1c1c" stroke-width="0.18">3</text>
<line x1="454.5" y1="625.5" x2="454.5" y2="628.5" stroke="#1c1c1c" stroke-width="1.1"/>
<text x="454.5" y="637.6" font-size="7.8" text-anchor="middle" font-weight="normal" fill="#1c1c1c" stroke="#1c1c1c" stroke-width="0.18">6</text>
<line x1="478" y1="625.5" x2="478" y2="628.5" stroke="#1c1c1c" stroke-width="1.1"/>
<text x="478" y="637.6" font-size="7.8" text-anchor="middle" font-weight="normal" fill="#1c1c1c" stroke="#1c1c1c" stroke-width="0.18">9</text>
<line x1="501.25" y1="625.5" x2="501.25" y2="628.5" stroke="#1c1c1c" stroke-width="1.1"/>
<text x="501.25" y="637.6" font-size="7.8" text-anchor="middle" font-weight="normal" fill="#1c1c1c" stroke="#1c1c1c" stroke-width="0.18">24</text>
<text x="510.5" y="637.6" font-size="7.8" text-anchor="middle" font-weight="normal" fill="#1c1c1c" stroke="#1c1c1c" stroke-width="0.18">h</text>
<path d="M407.6,515.7 V513.5 H478 V515.7" fill="none" stroke="#1c1c1c" stroke-width="1.15"/>
<text x="442.8" y="511.3" font-size="6.6" text-anchor="middle" font-weight="normal" fill="#333" stroke="#333" stroke-width="0.18">ns</text>
<path d="M407.6,507.7 V505.5 H501.5 V507.7" fill="none" stroke="#1c1c1c" stroke-width="1.15"/>
<rect x="450.9" y="501.25" width="1.7" height="1.7" fill="#222"/>
<rect x="453.7" y="501.25" width="1.7" height="1.7" fill="#222"/>
<rect x="456.5" y="501.25" width="1.7" height="1.7" fill="#222"/>
<text transform="translate(363.1,571) rotate(-90)" font-size="8.4" text-anchor="middle" fill="#1c1c1c" stroke="#1c1c1c" stroke-width="0.2" textLength="69.6" lengthAdjust="spacingAndGlyphs">Intra-cellular CFU MRSA</text>
<text transform="translate(373.6,571.3) rotate(-90)" font-size="8.4" text-anchor="middle" fill="#1c1c1c" stroke="#1c1c1c" stroke-width="0.2" textLength="54" lengthAdjust="spacingAndGlyphs">(normalized to 1 h)</text>
<rect x="0.5" y="0.5" width="519" height="643" fill="none" stroke="#000" stroke-width="1.2"/>
</svg>
</body></html>
